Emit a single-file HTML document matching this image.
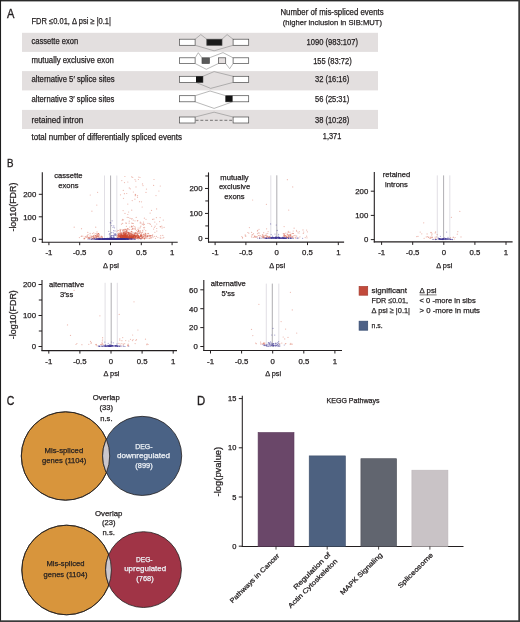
<!DOCTYPE html>
<html><head><meta charset="utf-8"><style>
html,body{margin:0;padding:0;background:#fff;}
svg{display:block;will-change:transform;}
text{font-family:"Liberation Sans", sans-serif;}
.t{}
</style></head><body>
<svg width="520" height="622" viewBox="0 0 520 622">
<rect width="520" height="622" fill="#ffffff"/>
<text x="7.1" y="17.7" font-size="12.3" textLength="7.4" lengthAdjust="spacingAndGlyphs" fill="#231f20" stroke="#231f20" stroke-width="0.35">A</text>
<text x="31.5" y="24.4" font-size="8.6" textLength="79.5" lengthAdjust="spacingAndGlyphs" fill="#231f20" stroke="#231f20" stroke-width="0.25">FDR ≤0.01, Δ psi ≥ |0.1|</text>
<text x="280.4" y="14.7" font-size="8.2" textLength="103.2" lengthAdjust="spacingAndGlyphs" fill="#231f20" stroke="#231f20" stroke-width="0.25">Number of mis-spliced events</text>
<text x="282.7" y="24.6" font-size="8.1" textLength="99.3" lengthAdjust="spacingAndGlyphs" fill="#231f20" stroke="#231f20" stroke-width="0.25">(higher inclusion in SIB:MUT)</text>
<rect x="22" y="32.8" width="356" height="19.1" fill="#e3dfdf"/>
<rect x="22" y="71.1" width="356" height="19.30000000000001" fill="#e3dfdf"/>
<rect x="22" y="109.9" width="356" height="19.099999999999994" fill="#e3dfdf"/>
<text x="31.5" y="44.3" font-size="8.15" textLength="46.6" lengthAdjust="spacingAndGlyphs" fill="#231f20" stroke="#231f20" stroke-width="0.25">cassette exon</text>
<text x="306.59999999999997" y="44.75" font-size="8.2" textLength="51.4" lengthAdjust="spacingAndGlyphs" fill="#231f20" stroke="#231f20" stroke-width="0.25">1090 (983:107)</text>
<text x="31.5" y="63.0" font-size="8.15" textLength="82.4" lengthAdjust="spacingAndGlyphs" fill="#231f20" stroke="#231f20" stroke-width="0.25">mutually exclusive exon</text>
<text x="313.2" y="63.6" font-size="8.2" textLength="38.5" lengthAdjust="spacingAndGlyphs" fill="#231f20" stroke="#231f20" stroke-width="0.25">155 (83:72)</text>
<text x="31.5" y="82.0" font-size="8.15" textLength="83.1" lengthAdjust="spacingAndGlyphs" fill="#231f20" stroke="#231f20" stroke-width="0.25">alternative 5′ splice sites</text>
<text x="315.0" y="82.25" font-size="8.2" textLength="34.2" lengthAdjust="spacingAndGlyphs" fill="#231f20" stroke="#231f20" stroke-width="0.25">32 (16:16)</text>
<text x="31.5" y="101.9" font-size="8.15" textLength="82.9" lengthAdjust="spacingAndGlyphs" fill="#231f20" stroke="#231f20" stroke-width="0.25">alternative 3′ splice sites</text>
<text x="315.0" y="101.5" font-size="8.2" textLength="34.2" lengthAdjust="spacingAndGlyphs" fill="#231f20" stroke="#231f20" stroke-width="0.25">56 (25:31)</text>
<text x="31.5" y="122.6" font-size="8.15" textLength="51.7" lengthAdjust="spacingAndGlyphs" fill="#231f20" stroke="#231f20" stroke-width="0.25">retained intron</text>
<text x="315.0" y="122.75" font-size="8.2" textLength="34.2" lengthAdjust="spacingAndGlyphs" fill="#231f20" stroke="#231f20" stroke-width="0.25">38 (10:28)</text>
<text x="31.5" y="139.6" font-size="8.15" textLength="150.5" lengthAdjust="spacingAndGlyphs" fill="#231f20" stroke="#231f20" stroke-width="0.25">total number of differentially spliced events</text>
<text x="322.8" y="138.9" font-size="8.2" textLength="18.5" lengthAdjust="spacingAndGlyphs" fill="#231f20" stroke="#231f20" stroke-width="0.25">1,371</text>
<path d="M195.1 39.2 L200.8 34.6 L206.8 39.2 M222 39.2 L227.1 34.6 L233.1 39.2 M195.1 45.3 L214.1 50.8 L233.1 45.3" stroke="#8a8a8a" stroke-width="0.6" fill="none"/>
<rect x="179.5" y="39.2" width="15.599999999999994" height="6.099999999999994" fill="#ffffff" stroke="#4a4a4a" stroke-width="0.7"/>
<rect x="206.8" y="39.2" width="15.199999999999989" height="6.099999999999994" fill="#1a1a1a" stroke="#4a4a4a" stroke-width="0.7"/>
<rect x="233.1" y="39.2" width="15.599999999999994" height="6.099999999999994" fill="#ffffff" stroke="#4a4a4a" stroke-width="0.7"/>
<path d="M195.1 57.8 L198.3 52.7 L202 57.8 M209.4 57.8 L223 52.6 L233.1 57.8 M195.1 63.5 L206.3 69.3 L218.4 63.5 M225.7 63.5 L229.7 68.7 L233.1 63.5" stroke="#8a8a8a" stroke-width="0.6" fill="none"/>
<rect x="179.5" y="57.8" width="15.599999999999994" height="5.700000000000003" fill="#ffffff" stroke="#4a4a4a" stroke-width="0.7"/>
<rect x="202" y="57.8" width="7.400000000000006" height="5.700000000000003" fill="#5a5a5a" stroke="#4a4a4a" stroke-width="0.7"/>
<rect x="218.4" y="57.8" width="7.299999999999983" height="5.700000000000003" fill="#e4dfdf" stroke="#4a4a4a" stroke-width="0.7"/>
<rect x="233.1" y="57.8" width="15.599999999999994" height="5.700000000000003" fill="#ffffff" stroke="#4a4a4a" stroke-width="0.7"/>
<path d="M202.9 76.3 L214.1 71.6 L233.1 76.3 M196 82.4 L210.7 88.4 L233.1 82.4" stroke="#8a8a8a" stroke-width="0.6" fill="none"/>
<rect x="179.5" y="76.3" width="23.400000000000006" height="6.1000000000000085" fill="#ffffff" stroke="#4a4a4a" stroke-width="0.7"/>
<rect x="196" y="76.3" width="6.9" height="6.1000000000000085" fill="#111111"/>
<rect x="233.1" y="76.3" width="15.599999999999994" height="6.1000000000000085" fill="#ffffff" stroke="#4a4a4a" stroke-width="0.7"/>
<path d="M195.1 95.7 L210.1 91 L225.7 95.7 M195.1 101.8 L214.1 108.4 L232.6 101.8" stroke="#8a8a8a" stroke-width="0.6" fill="none"/>
<rect x="179.5" y="95.7" width="15.599999999999994" height="6.099999999999994" fill="#ffffff" stroke="#4a4a4a" stroke-width="0.7"/>
<rect x="225.7" y="95.7" width="23.0" height="6.099999999999994" fill="#ffffff" stroke="#4a4a4a" stroke-width="0.7"/>
<rect x="225.7" y="95.7" width="6.9" height="6.099999999999994" fill="#111111"/>
<path d="M195.1 117 L214.1 112.2 L233.1 117" stroke="#8a8a8a" stroke-width="0.6" fill="none"/>
<path d="M195.6 120.3 L233.1 120.3" stroke="#444" stroke-width="0.7" fill="none" stroke-dasharray="2.9 1.9"/>
<rect x="179.5" y="117" width="15.599999999999994" height="6" fill="#ffffff" stroke="#4a4a4a" stroke-width="0.7"/>
<rect x="233.1" y="117" width="15.599999999999994" height="6" fill="#ffffff" stroke="#4a4a4a" stroke-width="0.7"/>
<text x="7.0" y="167.4" font-size="11.6" textLength="6.5" lengthAdjust="spacingAndGlyphs" fill="#231f20" stroke="#231f20" stroke-width="0.35">B</text>
<line x1="42.3" y1="172.3" x2="42.3" y2="242.7" stroke="#231f20" stroke-width="1.1"/>
<line x1="41.8" y1="242.2" x2="177.7" y2="242.2" stroke="#231f20" stroke-width="1.1"/>
<line x1="38.8" y1="239.3" x2="42.3" y2="239.3" stroke="#231f20" stroke-width="1.0"/>
<text x="36.3" y="242.10000000000002" font-size="7.8" text-anchor="end" fill="#231f20" stroke="#231f20" stroke-width="0.25">0</text>
<line x1="38.8" y1="216.8" x2="42.3" y2="216.8" stroke="#231f20" stroke-width="1.0"/>
<text x="36.3" y="219.60000000000002" font-size="7.8" text-anchor="end" fill="#231f20" stroke="#231f20" stroke-width="0.25">100</text>
<line x1="38.8" y1="194.3" x2="42.3" y2="194.3" stroke="#231f20" stroke-width="1.0"/>
<text x="36.3" y="197.10000000000002" font-size="7.8" text-anchor="end" fill="#231f20" stroke="#231f20" stroke-width="0.25">200</text>
<line x1="48.9" y1="242.2" x2="48.9" y2="245.2" stroke="#231f20" stroke-width="1.0"/>
<text x="48.9" y="255.1" font-size="7.8" text-anchor="middle" fill="#231f20" stroke="#231f20" stroke-width="0.25">-1</text>
<line x1="79.7" y1="242.2" x2="79.7" y2="245.2" stroke="#231f20" stroke-width="1.0"/>
<text x="79.7" y="255.1" font-size="7.8" text-anchor="middle" fill="#231f20" stroke="#231f20" stroke-width="0.25">-0.5</text>
<line x1="110.5" y1="242.2" x2="110.5" y2="245.2" stroke="#231f20" stroke-width="1.0"/>
<text x="110.5" y="255.1" font-size="7.8" text-anchor="middle" fill="#231f20" stroke="#231f20" stroke-width="0.25">0</text>
<line x1="141.3" y1="242.2" x2="141.3" y2="245.2" stroke="#231f20" stroke-width="1.0"/>
<text x="141.3" y="255.1" font-size="7.8" text-anchor="middle" fill="#231f20" stroke="#231f20" stroke-width="0.25">0.5</text>
<line x1="172.1" y1="242.2" x2="172.1" y2="245.2" stroke="#231f20" stroke-width="1.0"/>
<text x="172.1" y="255.1" font-size="7.8" text-anchor="middle" fill="#231f20" stroke="#231f20" stroke-width="0.25">1</text>
<text x="111.0" y="267.8" font-size="7.4" text-anchor="middle" fill="#231f20" stroke="#231f20" stroke-width="0.25">Δ psi</text>
<line x1="104.5" y1="175.5" x2="104.5" y2="239.8" stroke="#d9d7de" stroke-width="0.8"/>
<line x1="116.8" y1="175.5" x2="116.8" y2="239.8" stroke="#d9d7de" stroke-width="0.8"/>
<line x1="110.6" y1="175.5" x2="110.6" y2="239.8" stroke="#9a999e" stroke-width="0.8"/>
<text x="68.4" y="177.7" font-size="7.6" text-anchor="middle" fill="#231f20" stroke="#231f20" stroke-width="0.25">cassette</text>
<text x="68.4" y="187.7" font-size="7.6" text-anchor="middle" fill="#231f20" stroke="#231f20" stroke-width="0.25">exons</text>
<line x1="208.5" y1="172.4" x2="208.5" y2="242.6" stroke="#231f20" stroke-width="1.1"/>
<line x1="208.0" y1="242.1" x2="344.1" y2="242.1" stroke="#231f20" stroke-width="1.1"/>
<line x1="205.0" y1="238.4" x2="208.5" y2="238.4" stroke="#231f20" stroke-width="1.0"/>
<text x="202.5" y="241.20000000000002" font-size="7.8" text-anchor="end" fill="#231f20" stroke="#231f20" stroke-width="0.25">0</text>
<line x1="205.0" y1="213.43" x2="208.5" y2="213.43" stroke="#231f20" stroke-width="1.0"/>
<text x="202.5" y="216.23000000000002" font-size="7.8" text-anchor="end" fill="#231f20" stroke="#231f20" stroke-width="0.25">100</text>
<line x1="205.0" y1="188.46" x2="208.5" y2="188.46" stroke="#231f20" stroke-width="1.0"/>
<text x="202.5" y="191.26000000000002" font-size="7.8" text-anchor="end" fill="#231f20" stroke="#231f20" stroke-width="0.25">200</text>
<line x1="205.3" y1="225.91500000000002" x2="208.5" y2="225.91500000000002" stroke="#231f20" stroke-width="1.0"/>
<line x1="205.3" y1="200.945" x2="208.5" y2="200.945" stroke="#231f20" stroke-width="1.0"/>
<line x1="205.3" y1="175.975" x2="208.5" y2="175.975" stroke="#231f20" stroke-width="1.0"/>
<line x1="215.1" y1="242.1" x2="215.1" y2="245.1" stroke="#231f20" stroke-width="1.0"/>
<text x="215.1" y="255.2" font-size="7.8" text-anchor="middle" fill="#231f20" stroke="#231f20" stroke-width="0.25">-1</text>
<line x1="245.89999999999998" y1="242.1" x2="245.89999999999998" y2="245.1" stroke="#231f20" stroke-width="1.0"/>
<text x="245.89999999999998" y="255.2" font-size="7.8" text-anchor="middle" fill="#231f20" stroke="#231f20" stroke-width="0.25">-0.5</text>
<line x1="276.7" y1="242.1" x2="276.7" y2="245.1" stroke="#231f20" stroke-width="1.0"/>
<text x="276.7" y="255.2" font-size="7.8" text-anchor="middle" fill="#231f20" stroke="#231f20" stroke-width="0.25">0</text>
<line x1="307.5" y1="242.1" x2="307.5" y2="245.1" stroke="#231f20" stroke-width="1.0"/>
<text x="307.5" y="255.2" font-size="7.8" text-anchor="middle" fill="#231f20" stroke="#231f20" stroke-width="0.25">0.5</text>
<line x1="338.3" y1="242.1" x2="338.3" y2="245.1" stroke="#231f20" stroke-width="1.0"/>
<text x="338.3" y="255.2" font-size="7.8" text-anchor="middle" fill="#231f20" stroke="#231f20" stroke-width="0.25">1</text>
<text x="277.2" y="267.9" font-size="7.4" text-anchor="middle" fill="#231f20" stroke="#231f20" stroke-width="0.25">Δ psi</text>
<line x1="270.8" y1="175.3" x2="270.8" y2="238.9" stroke="#d9d7de" stroke-width="0.8"/>
<line x1="276.8" y1="175.3" x2="276.8" y2="238.9" stroke="#9a999e" stroke-width="0.8"/>
<text x="234.5" y="179.6" font-size="7.6" text-anchor="middle" fill="#231f20" stroke="#231f20" stroke-width="0.25">mutually</text>
<text x="234.5" y="189.29999999999998" font-size="7.6" text-anchor="middle" fill="#231f20" stroke="#231f20" stroke-width="0.25">exclusive</text>
<text x="234.5" y="199.0" font-size="7.6" text-anchor="middle" fill="#231f20" stroke="#231f20" stroke-width="0.25">exons</text>
<line x1="374.3" y1="172.0" x2="374.3" y2="242.4" stroke="#231f20" stroke-width="1.1"/>
<line x1="373.8" y1="241.9" x2="512.6" y2="241.9" stroke="#231f20" stroke-width="1.1"/>
<line x1="370.8" y1="239.6" x2="374.3" y2="239.6" stroke="#231f20" stroke-width="1.0"/>
<text x="368.3" y="242.4" font-size="7.8" text-anchor="end" fill="#231f20" stroke="#231f20" stroke-width="0.25">0</text>
<line x1="370.8" y1="215.4" x2="374.3" y2="215.4" stroke="#231f20" stroke-width="1.0"/>
<text x="368.3" y="218.20000000000002" font-size="7.8" text-anchor="end" fill="#231f20" stroke="#231f20" stroke-width="0.25">100</text>
<line x1="370.8" y1="191.2" x2="374.3" y2="191.2" stroke="#231f20" stroke-width="1.0"/>
<text x="368.3" y="194.0" font-size="7.8" text-anchor="end" fill="#231f20" stroke="#231f20" stroke-width="0.25">200</text>
<line x1="381.6" y1="241.9" x2="381.6" y2="244.9" stroke="#231f20" stroke-width="1.0"/>
<text x="381.6" y="254.9" font-size="7.8" text-anchor="middle" fill="#231f20" stroke="#231f20" stroke-width="0.25">-1</text>
<line x1="412.7" y1="241.9" x2="412.7" y2="244.9" stroke="#231f20" stroke-width="1.0"/>
<text x="412.7" y="254.9" font-size="7.8" text-anchor="middle" fill="#231f20" stroke="#231f20" stroke-width="0.25">-0.5</text>
<line x1="443.8" y1="241.9" x2="443.8" y2="244.9" stroke="#231f20" stroke-width="1.0"/>
<text x="443.8" y="254.9" font-size="7.8" text-anchor="middle" fill="#231f20" stroke="#231f20" stroke-width="0.25">0</text>
<line x1="474.90000000000003" y1="241.9" x2="474.90000000000003" y2="244.9" stroke="#231f20" stroke-width="1.0"/>
<text x="474.90000000000003" y="254.9" font-size="7.8" text-anchor="middle" fill="#231f20" stroke="#231f20" stroke-width="0.25">0.5</text>
<line x1="506.0" y1="241.9" x2="506.0" y2="244.9" stroke="#231f20" stroke-width="1.0"/>
<text x="506.0" y="254.9" font-size="7.8" text-anchor="middle" fill="#231f20" stroke="#231f20" stroke-width="0.25">1</text>
<text x="444.3" y="267.6" font-size="7.4" text-anchor="middle" fill="#231f20" stroke="#231f20" stroke-width="0.25">Δ psi</text>
<line x1="437.3" y1="175.4" x2="437.3" y2="240.1" stroke="#d9d7de" stroke-width="0.8"/>
<line x1="449.8" y1="175.4" x2="449.8" y2="240.1" stroke="#d9d7de" stroke-width="0.8"/>
<line x1="443.6" y1="175.4" x2="443.6" y2="240.1" stroke="#9a999e" stroke-width="0.8"/>
<text x="396.5" y="176.79999999999998" font-size="7.6" text-anchor="middle" fill="#231f20" stroke="#231f20" stroke-width="0.25">retained</text>
<text x="396.5" y="186.49999999999997" font-size="7.6" text-anchor="middle" fill="#231f20" stroke="#231f20" stroke-width="0.25">introns</text>
<line x1="42.0" y1="280.0" x2="42.0" y2="351.1" stroke="#231f20" stroke-width="1.1"/>
<line x1="41.5" y1="350.6" x2="177.0" y2="350.6" stroke="#231f20" stroke-width="1.1"/>
<line x1="38.5" y1="346.5" x2="42.0" y2="346.5" stroke="#231f20" stroke-width="1.0"/>
<text x="36.0" y="349.3" font-size="7.8" text-anchor="end" fill="#231f20" stroke="#231f20" stroke-width="0.25">0</text>
<line x1="38.5" y1="315.5" x2="42.0" y2="315.5" stroke="#231f20" stroke-width="1.0"/>
<text x="36.0" y="318.3" font-size="7.8" text-anchor="end" fill="#231f20" stroke="#231f20" stroke-width="0.25">100</text>
<line x1="38.5" y1="284.5" x2="42.0" y2="284.5" stroke="#231f20" stroke-width="1.0"/>
<text x="36.0" y="287.3" font-size="7.8" text-anchor="end" fill="#231f20" stroke="#231f20" stroke-width="0.25">200</text>
<line x1="38.8" y1="331.0" x2="42.0" y2="331.0" stroke="#231f20" stroke-width="1.0"/>
<line x1="38.8" y1="300.0" x2="42.0" y2="300.0" stroke="#231f20" stroke-width="1.0"/>
<line x1="48.8" y1="350.6" x2="48.8" y2="353.6" stroke="#231f20" stroke-width="1.0"/>
<text x="48.8" y="363.6" font-size="7.8" text-anchor="middle" fill="#231f20" stroke="#231f20" stroke-width="0.25">-1</text>
<line x1="79.9" y1="350.6" x2="79.9" y2="353.6" stroke="#231f20" stroke-width="1.0"/>
<text x="79.9" y="363.6" font-size="7.8" text-anchor="middle" fill="#231f20" stroke="#231f20" stroke-width="0.25">-0.5</text>
<line x1="111.0" y1="350.6" x2="111.0" y2="353.6" stroke="#231f20" stroke-width="1.0"/>
<text x="111.0" y="363.6" font-size="7.8" text-anchor="middle" fill="#231f20" stroke="#231f20" stroke-width="0.25">0</text>
<line x1="142.1" y1="350.6" x2="142.1" y2="353.6" stroke="#231f20" stroke-width="1.0"/>
<text x="142.1" y="363.6" font-size="7.8" text-anchor="middle" fill="#231f20" stroke="#231f20" stroke-width="0.25">0.5</text>
<line x1="173.2" y1="350.6" x2="173.2" y2="353.6" stroke="#231f20" stroke-width="1.0"/>
<text x="173.2" y="363.6" font-size="7.8" text-anchor="middle" fill="#231f20" stroke="#231f20" stroke-width="0.25">1</text>
<text x="111.5" y="376.3" font-size="7.4" text-anchor="middle" fill="#231f20" stroke="#231f20" stroke-width="0.25">Δ psi</text>
<line x1="105.1" y1="282.8" x2="105.1" y2="347.0" stroke="#d9d7de" stroke-width="0.8"/>
<line x1="117.3" y1="282.8" x2="117.3" y2="347.0" stroke="#d9d7de" stroke-width="0.8"/>
<line x1="111.2" y1="282.8" x2="111.2" y2="347.0" stroke="#9a999e" stroke-width="0.8"/>
<text x="66.6" y="286.5" font-size="7.6" text-anchor="middle" fill="#231f20" stroke="#231f20" stroke-width="0.25">alternative</text>
<text x="66.6" y="296.5" font-size="7.6" text-anchor="middle" fill="#231f20" stroke="#231f20" stroke-width="0.25">3′ss</text>
<line x1="203.8" y1="280.0" x2="203.8" y2="351.0" stroke="#231f20" stroke-width="1.1"/>
<line x1="203.3" y1="350.5" x2="342.0" y2="350.5" stroke="#231f20" stroke-width="1.1"/>
<line x1="200.3" y1="346.5" x2="203.8" y2="346.5" stroke="#231f20" stroke-width="1.0"/>
<text x="197.8" y="349.3" font-size="7.8" text-anchor="end" fill="#231f20" stroke="#231f20" stroke-width="0.25">0</text>
<line x1="200.3" y1="327.6" x2="203.8" y2="327.6" stroke="#231f20" stroke-width="1.0"/>
<text x="197.8" y="330.40000000000003" font-size="7.8" text-anchor="end" fill="#231f20" stroke="#231f20" stroke-width="0.25">20</text>
<line x1="200.3" y1="308.7" x2="203.8" y2="308.7" stroke="#231f20" stroke-width="1.0"/>
<text x="197.8" y="311.5" font-size="7.8" text-anchor="end" fill="#231f20" stroke="#231f20" stroke-width="0.25">40</text>
<line x1="200.3" y1="289.8" x2="203.8" y2="289.8" stroke="#231f20" stroke-width="1.0"/>
<text x="197.8" y="292.6" font-size="7.8" text-anchor="end" fill="#231f20" stroke="#231f20" stroke-width="0.25">60</text>
<line x1="210.5" y1="350.5" x2="210.5" y2="353.5" stroke="#231f20" stroke-width="1.0"/>
<text x="210.5" y="363.6" font-size="7.8" text-anchor="middle" fill="#231f20" stroke="#231f20" stroke-width="0.25">-1</text>
<line x1="241.6" y1="350.5" x2="241.6" y2="353.5" stroke="#231f20" stroke-width="1.0"/>
<text x="241.6" y="363.6" font-size="7.8" text-anchor="middle" fill="#231f20" stroke="#231f20" stroke-width="0.25">-0.5</text>
<line x1="272.7" y1="350.5" x2="272.7" y2="353.5" stroke="#231f20" stroke-width="1.0"/>
<text x="272.7" y="363.6" font-size="7.8" text-anchor="middle" fill="#231f20" stroke="#231f20" stroke-width="0.25">0</text>
<line x1="303.8" y1="350.5" x2="303.8" y2="353.5" stroke="#231f20" stroke-width="1.0"/>
<text x="303.8" y="363.6" font-size="7.8" text-anchor="middle" fill="#231f20" stroke="#231f20" stroke-width="0.25">0.5</text>
<line x1="334.9" y1="350.5" x2="334.9" y2="353.5" stroke="#231f20" stroke-width="1.0"/>
<text x="334.9" y="363.6" font-size="7.8" text-anchor="middle" fill="#231f20" stroke="#231f20" stroke-width="0.25">1</text>
<text x="273.2" y="376.3" font-size="7.4" text-anchor="middle" fill="#231f20" stroke="#231f20" stroke-width="0.25">Δ psi</text>
<line x1="266.3" y1="283.6" x2="266.3" y2="347.0" stroke="#d9d7de" stroke-width="0.8"/>
<line x1="278.8" y1="283.6" x2="278.8" y2="347.0" stroke="#d9d7de" stroke-width="0.8"/>
<line x1="272.3" y1="283.6" x2="272.3" y2="347.0" stroke="#9a999e" stroke-width="0.8"/>
<text x="228.2" y="286.2" font-size="7.6" text-anchor="middle" fill="#231f20" stroke="#231f20" stroke-width="0.25">alternative</text>
<text x="228.2" y="296.0" font-size="7.6" text-anchor="middle" fill="#231f20" stroke="#231f20" stroke-width="0.25">5′ss</text>
<text x="0" y="0" font-size="8.6" text-anchor="middle" textLength="49" lengthAdjust="spacingAndGlyphs" fill="#231f20" stroke="#231f20" stroke-width="0.25" transform="translate(15.6 207.1) rotate(-90)">-log10(FDR)</text>
<text x="0" y="0" font-size="8.6" text-anchor="middle" textLength="49" lengthAdjust="spacingAndGlyphs" fill="#231f20" stroke="#231f20" stroke-width="0.25" transform="translate(16.1 314.7) rotate(-90)">-log10(FDR)</text>
<g stroke="#cf4a33" stroke-width="1.24" stroke-linecap="round" stroke-opacity="0.38" fill="none"><path d="M126.8 236.9h0"/><path d="M118.0 235.2h0"/><path d="M149.5 238.0h0"/><path d="M135.0 234.6h0"/><path d="M136.6 236.2h0"/><path d="M132.1 218.6h0"/><path d="M139.2 233.1h0"/><path d="M136.0 186.9h0"/><path d="M121.6 235.5h0"/><path d="M134.6 233.3h0"/><path d="M126.4 237.5h0"/><path d="M137.2 235.6h0"/><path d="M152.6 219.4h0"/><path d="M156.7 224.0h0"/><path d="M124.9 232.4h0"/><path d="M123.5 219.8h0"/><path d="M125.1 238.3h0"/><path d="M134.1 235.1h0"/><path d="M156.8 231.1h0"/><path d="M125.4 235.3h0"/><path d="M123.0 238.7h0"/><path d="M119.2 234.6h0"/><path d="M129.1 235.4h0"/><path d="M144.4 218.2h0"/><path d="M128.3 232.9h0"/><path d="M131.7 237.8h0"/><path d="M118.3 236.8h0"/><path d="M134.6 235.2h0"/><path d="M138.5 230.4h0"/><path d="M136.9 238.6h0"/><path d="M133.3 237.2h0"/><path d="M126.8 237.7h0"/><path d="M132.4 237.5h0"/><path d="M122.8 238.0h0"/><path d="M125.7 235.0h0"/><path d="M126.0 233.3h0"/><path d="M123.6 233.2h0"/><path d="M146.1 238.2h0"/><path d="M146.1 237.8h0"/><path d="M121.5 233.8h0"/><path d="M126.3 234.2h0"/><path d="M117.4 237.4h0"/><path d="M137.8 220.6h0"/><path d="M140.9 234.4h0"/><path d="M131.6 223.0h0"/><path d="M133.1 238.6h0"/><path d="M118.0 235.1h0"/><path d="M136.2 237.8h0"/><path d="M134.0 235.5h0"/><path d="M129.6 235.7h0"/><path d="M131.3 238.1h0"/><path d="M134.7 236.0h0"/><path d="M124.5 237.9h0"/><path d="M119.6 237.1h0"/><path d="M120.4 238.6h0"/><path d="M126.4 237.7h0"/><path d="M122.9 237.6h0"/><path d="M139.0 236.9h0"/><path d="M126.9 238.2h0"/><path d="M145.5 233.6h0"/><path d="M130.1 237.5h0"/><path d="M129.1 236.4h0"/><path d="M120.0 236.3h0"/><path d="M160.7 235.7h0"/><path d="M121.3 237.2h0"/><path d="M158.9 191.0h0"/><path d="M120.6 236.7h0"/><path d="M118.5 234.6h0"/><path d="M136.7 235.8h0"/><path d="M142.6 232.3h0"/><path d="M141.2 235.0h0"/><path d="M132.2 237.7h0"/><path d="M124.1 238.2h0"/><path d="M134.8 229.0h0"/><path d="M120.3 237.3h0"/><path d="M137.6 233.5h0"/><path d="M140.2 223.1h0"/><path d="M120.7 234.7h0"/><path d="M128.6 232.8h0"/><path d="M123.0 237.9h0"/><path d="M137.6 238.0h0"/><path d="M127.9 236.3h0"/><path d="M129.6 237.9h0"/><path d="M125.7 237.6h0"/><path d="M129.6 235.3h0"/><path d="M147.7 235.8h0"/><path d="M140.1 236.3h0"/><path d="M123.8 238.0h0"/><path d="M127.8 182.0h0"/><path d="M152.7 236.3h0"/><path d="M125.5 235.7h0"/><path d="M120.6 235.1h0"/><path d="M132.8 237.6h0"/><path d="M128.5 237.6h0"/><path d="M131.6 236.7h0"/><path d="M121.1 236.5h0"/><path d="M143.0 234.9h0"/><path d="M135.8 236.4h0"/><path d="M131.3 236.1h0"/><path d="M139.2 237.6h0"/><path d="M135.4 238.2h0"/><path d="M135.9 235.6h0"/><path d="M125.9 234.7h0"/><path d="M135.5 236.9h0"/><path d="M120.0 238.2h0"/><path d="M159.6 221.6h0"/><path d="M130.4 237.5h0"/><path d="M126.0 233.8h0"/><path d="M126.4 236.1h0"/><path d="M120.8 237.9h0"/><path d="M122.7 230.9h0"/><path d="M147.0 236.2h0"/><path d="M127.5 238.3h0"/><path d="M123.1 236.8h0"/><path d="M145.7 235.1h0"/><path d="M131.9 233.6h0"/><path d="M154.0 179.5h0"/><path d="M133.6 233.0h0"/><path d="M136.2 236.1h0"/><path d="M122.9 237.2h0"/><path d="M135.4 237.0h0"/><path d="M144.7 235.4h0"/><path d="M123.8 237.6h0"/><path d="M125.7 235.5h0"/><path d="M152.7 234.8h0"/><path d="M140.5 231.0h0"/><path d="M161.8 226.2h0"/><path d="M120.2 238.7h0"/><path d="M138.1 237.1h0"/><path d="M125.3 236.5h0"/><path d="M127.4 228.7h0"/><path d="M126.8 229.9h0"/><path d="M129.1 238.0h0"/><path d="M127.6 238.2h0"/><path d="M122.4 238.5h0"/><path d="M128.8 238.8h0"/><path d="M127.6 235.2h0"/><path d="M123.5 235.4h0"/><path d="M134.4 238.3h0"/><path d="M139.8 238.7h0"/><path d="M124.1 233.1h0"/><path d="M126.2 231.9h0"/><path d="M121.8 180.6h0"/><path d="M145.8 234.5h0"/><path d="M125.3 235.1h0"/><path d="M125.1 234.9h0"/><path d="M126.0 237.4h0"/><path d="M140.5 234.6h0"/><path d="M127.9 232.5h0"/><path d="M124.6 233.0h0"/><path d="M156.4 217.6h0"/><path d="M129.3 238.3h0"/><path d="M123.9 235.0h0"/><path d="M133.4 192.0h0"/><path d="M132.4 237.4h0"/><path d="M123.9 236.5h0"/><path d="M133.0 236.5h0"/><path d="M123.5 235.4h0"/><path d="M133.7 236.0h0"/><path d="M122.6 238.2h0"/><path d="M118.5 234.8h0"/><path d="M120.4 235.6h0"/><path d="M134.1 235.9h0"/><path d="M133.9 228.3h0"/><path d="M149.4 238.5h0"/><path d="M131.4 234.5h0"/><path d="M126.3 235.1h0"/><path d="M140.2 236.9h0"/><path d="M128.7 217.5h0"/><path d="M128.3 233.9h0"/><path d="M155.5 238.3h0"/><path d="M143.0 185.6h0"/><path d="M164.1 227.4h0"/><path d="M131.8 226.7h0"/><path d="M139.4 238.5h0"/><path d="M119.1 236.5h0"/><path d="M126.2 237.3h0"/><path d="M120.9 232.3h0"/><path d="M122.0 238.6h0"/><path d="M135.0 179.6h0"/><path d="M131.0 237.2h0"/><path d="M124.9 235.8h0"/><path d="M125.2 229.7h0"/><path d="M121.5 235.2h0"/><path d="M119.4 238.3h0"/><path d="M128.4 233.1h0"/><path d="M120.6 236.9h0"/><path d="M128.0 236.0h0"/><path d="M134.6 237.3h0"/><path d="M124.1 229.7h0"/><path d="M141.5 201.8h0"/><path d="M135.3 237.8h0"/><path d="M136.3 233.1h0"/><path d="M127.9 232.1h0"/><path d="M137.2 238.2h0"/><path d="M126.4 237.4h0"/><path d="M125.6 233.2h0"/><path d="M148.4 235.8h0"/><path d="M132.6 235.2h0"/><path d="M138.6 237.8h0"/><path d="M126.8 236.4h0"/><path d="M150.3 224.4h0"/><path d="M127.1 234.6h0"/><path d="M125.6 237.9h0"/><path d="M124.1 238.4h0"/><path d="M123.0 238.0h0"/><path d="M149.7 236.2h0"/><path d="M124.8 235.2h0"/><path d="M129.7 237.9h0"/><path d="M123.8 238.7h0"/><path d="M122.6 235.6h0"/><path d="M127.8 214.5h0"/><path d="M127.1 235.1h0"/><path d="M124.8 235.3h0"/><path d="M126.4 238.4h0"/><path d="M126.4 238.2h0"/><path d="M126.2 236.3h0"/><path d="M129.2 232.4h0"/><path d="M133.3 236.9h0"/><path d="M122.3 234.6h0"/><path d="M118.0 238.7h0"/><path d="M153.9 219.1h0"/><path d="M131.5 234.9h0"/><path d="M125.7 236.7h0"/><path d="M126.5 237.7h0"/><path d="M131.5 226.0h0"/><path d="M130.2 238.4h0"/><path d="M124.8 236.5h0"/><path d="M131.2 237.1h0"/><path d="M128.6 232.7h0"/><path d="M151.0 237.3h0"/><path d="M127.1 235.8h0"/><path d="M131.7 238.1h0"/><path d="M138.8 235.7h0"/><path d="M127.5 237.0h0"/><path d="M146.0 192.4h0"/><path d="M134.1 237.5h0"/><path d="M124.8 237.7h0"/><path d="M131.3 235.5h0"/><path d="M153.6 229.1h0"/><path d="M129.5 233.6h0"/><path d="M147.9 238.2h0"/><path d="M124.7 238.7h0"/><path d="M134.7 237.3h0"/><path d="M120.4 238.5h0"/><path d="M140.0 177.5h0"/><path d="M125.9 229.3h0"/><path d="M123.1 235.7h0"/><path d="M118.6 236.5h0"/><path d="M120.4 236.8h0"/><path d="M131.4 235.8h0"/><path d="M131.1 231.6h0"/><path d="M121.6 235.6h0"/><path d="M142.7 230.3h0"/><path d="M123.1 230.7h0"/><path d="M122.9 237.7h0"/><path d="M123.3 235.9h0"/><path d="M127.2 237.1h0"/><path d="M127.6 235.1h0"/><path d="M124.4 237.9h0"/><path d="M123.5 238.4h0"/><path d="M138.1 238.0h0"/><path d="M127.2 217.3h0"/><path d="M133.5 236.9h0"/><path d="M144.2 238.6h0"/><path d="M124.5 236.8h0"/><path d="M147.2 233.7h0"/><path d="M129.7 235.3h0"/><path d="M140.1 230.9h0"/><path d="M131.4 236.9h0"/><path d="M132.9 237.1h0"/><path d="M142.1 238.5h0"/><path d="M141.1 235.6h0"/><path d="M140.2 236.4h0"/><path d="M124.1 236.8h0"/><path d="M121.0 237.5h0"/><path d="M122.5 236.2h0"/><path d="M132.7 237.4h0"/><path d="M123.1 237.1h0"/><path d="M131.4 238.5h0"/><path d="M127.5 232.8h0"/><path d="M128.4 237.7h0"/><path d="M132.5 234.6h0"/><path d="M140.1 238.0h0"/><path d="M141.3 236.3h0"/><path d="M125.8 235.3h0"/><path d="M124.5 236.4h0"/><path d="M140.9 235.7h0"/><path d="M143.5 227.6h0"/><path d="M122.4 238.7h0"/><path d="M130.4 236.1h0"/><path d="M126.9 230.9h0"/><path d="M122.1 236.2h0"/><path d="M143.5 224.9h0"/><path d="M121.7 234.5h0"/><path d="M144.0 234.7h0"/><path d="M134.0 235.3h0"/><path d="M124.8 235.2h0"/><path d="M130.8 238.7h0"/><path d="M145.6 234.9h0"/><path d="M136.4 233.3h0"/><path d="M145.4 237.2h0"/><path d="M120.7 237.4h0"/><path d="M133.4 236.9h0"/><path d="M126.1 238.8h0"/><path d="M142.1 237.9h0"/><path d="M142.2 207.0h0"/><path d="M144.9 238.6h0"/><path d="M132.9 235.5h0"/><path d="M126.7 238.4h0"/><path d="M129.6 237.1h0"/><path d="M117.9 233.4h0"/><path d="M154.5 236.3h0"/><path d="M125.3 236.4h0"/><path d="M121.6 237.8h0"/><path d="M119.2 235.4h0"/><path d="M140.9 238.5h0"/><path d="M134.8 232.9h0"/><path d="M122.6 223.4h0"/><path d="M138.7 233.4h0"/><path d="M133.6 237.2h0"/><path d="M124.3 236.2h0"/><path d="M135.6 237.6h0"/><path d="M123.1 233.1h0"/><path d="M133.0 238.0h0"/><path d="M120.7 238.2h0"/><path d="M126.1 237.9h0"/><path d="M141.3 236.2h0"/><path d="M123.5 232.6h0"/><path d="M135.3 236.7h0"/><path d="M129.6 236.1h0"/><path d="M123.1 237.3h0"/><path d="M156.6 208.9h0"/><path d="M133.3 236.1h0"/><path d="M121.8 235.8h0"/><path d="M125.6 233.4h0"/><path d="M118.2 234.3h0"/><path d="M120.4 237.5h0"/><path d="M125.3 238.1h0"/><path d="M127.5 236.8h0"/><path d="M124.1 235.8h0"/><path d="M162.8 235.4h0"/><path d="M128.2 238.4h0"/><path d="M125.0 234.2h0"/><path d="M125.5 235.5h0"/><path d="M127.5 235.6h0"/><path d="M130.1 218.4h0"/><path d="M122.4 238.8h0"/><path d="M131.5 237.7h0"/><path d="M129.8 237.8h0"/><path d="M129.7 236.1h0"/><path d="M129.6 235.8h0"/><path d="M126.9 235.8h0"/><path d="M131.6 238.8h0"/><path d="M129.4 237.2h0"/><path d="M121.1 235.3h0"/><path d="M124.4 236.0h0"/><path d="M150.7 235.8h0"/><path d="M127.0 235.1h0"/><path d="M160.2 226.5h0"/><path d="M120.3 231.4h0"/><path d="M123.3 238.5h0"/><path d="M138.4 237.0h0"/><path d="M127.8 204.1h0"/><path d="M133.1 234.4h0"/><path d="M130.9 233.3h0"/><path d="M145.4 236.2h0"/><path d="M122.3 238.0h0"/><path d="M130.8 237.4h0"/><path d="M142.5 237.6h0"/><path d="M133.3 238.6h0"/><path d="M123.4 233.3h0"/><path d="M126.7 236.7h0"/><path d="M151.6 226.2h0"/><path d="M142.3 224.3h0"/><path d="M144.1 234.5h0"/><path d="M129.8 235.0h0"/><path d="M124.4 234.0h0"/><path d="M123.0 236.8h0"/><path d="M125.0 236.8h0"/><path d="M117.1 231.5h0"/><path d="M144.5 238.7h0"/><path d="M133.0 236.6h0"/><path d="M126.2 232.8h0"/><path d="M131.3 237.5h0"/><path d="M122.1 238.7h0"/><path d="M123.9 232.3h0"/><path d="M141.3 235.2h0"/><path d="M124.9 234.7h0"/><path d="M132.8 229.5h0"/><path d="M119.6 236.3h0"/><path d="M155.1 226.2h0"/><path d="M125.3 234.2h0"/><path d="M120.7 236.0h0"/><path d="M142.0 235.7h0"/><path d="M124.5 235.1h0"/><path d="M156.4 236.4h0"/><path d="M126.5 231.2h0"/><path d="M134.9 199.2h0"/><path d="M135.6 233.5h0"/><path d="M129.5 236.8h0"/><path d="M154.9 232.3h0"/><path d="M149.1 235.9h0"/><path d="M128.4 229.0h0"/><path d="M132.6 236.1h0"/><path d="M127.0 237.8h0"/><path d="M130.7 236.5h0"/><path d="M162.1 227.9h0"/><path d="M147.8 236.2h0"/><path d="M130.9 236.3h0"/><path d="M135.6 237.2h0"/><path d="M132.5 234.9h0"/><path d="M146.0 219.3h0"/><path d="M131.0 234.8h0"/><path d="M129.4 229.7h0"/><path d="M122.2 237.0h0"/><path d="M120.3 230.4h0"/><path d="M129.9 236.8h0"/><path d="M134.5 235.7h0"/><path d="M120.2 233.8h0"/><path d="M131.6 237.9h0"/><path d="M141.8 237.6h0"/><path d="M125.7 236.6h0"/><path d="M129.1 223.2h0"/><path d="M160.9 238.2h0"/><path d="M127.9 236.0h0"/><path d="M132.1 236.3h0"/><path d="M128.7 234.5h0"/><path d="M130.2 235.7h0"/><path d="M124.7 236.5h0"/><path d="M134.4 235.7h0"/><path d="M122.4 238.6h0"/><path d="M143.8 238.5h0"/><path d="M144.2 229.1h0"/><path d="M137.4 220.8h0"/><path d="M129.1 238.0h0"/><path d="M140.6 232.4h0"/><path d="M121.4 235.7h0"/><path d="M127.7 229.8h0"/><path d="M128.0 238.0h0"/><path d="M118.7 235.5h0"/><path d="M147.3 235.9h0"/><path d="M125.0 236.3h0"/><path d="M133.3 235.7h0"/><path d="M119.9 234.0h0"/><path d="M138.7 237.8h0"/><path d="M135.6 194.9h0"/><path d="M123.1 236.9h0"/><path d="M131.7 236.8h0"/><path d="M137.5 237.9h0"/><path d="M135.8 181.1h0"/><path d="M142.5 183.9h0"/><path d="M130.7 234.1h0"/><path d="M138.3 236.5h0"/><path d="M122.4 235.2h0"/><path d="M133.2 236.3h0"/><path d="M144.5 236.8h0"/><path d="M160.1 217.6h0"/><path d="M133.9 235.4h0"/><path d="M123.7 238.5h0"/><path d="M126.7 193.5h0"/><path d="M138.7 237.1h0"/><path d="M131.6 219.0h0"/><path d="M129.6 236.7h0"/><path d="M120.9 229.6h0"/><path d="M126.9 234.3h0"/><path d="M134.7 236.5h0"/><path d="M135.6 236.5h0"/><path d="M123.1 236.1h0"/><path d="M124.2 235.1h0"/><path d="M132.8 235.9h0"/><path d="M121.6 235.2h0"/><path d="M120.7 236.1h0"/><path d="M124.1 235.8h0"/><path d="M127.9 236.9h0"/><path d="M122.5 237.1h0"/><path d="M126.0 235.6h0"/><path d="M126.2 233.3h0"/><path d="M121.5 235.7h0"/><path d="M141.2 223.0h0"/><path d="M124.2 235.9h0"/><path d="M134.6 238.2h0"/><path d="M126.2 238.5h0"/><path d="M120.2 230.5h0"/><path d="M144.4 238.8h0"/><path d="M125.3 237.2h0"/><path d="M152.3 235.3h0"/><path d="M137.4 234.1h0"/><path d="M125.3 236.8h0"/><path d="M120.9 233.7h0"/><path d="M126.1 236.4h0"/><path d="M124.6 235.8h0"/><path d="M122.6 235.6h0"/><path d="M130.9 238.3h0"/><path d="M125.5 238.1h0"/><path d="M127.9 235.0h0"/><path d="M128.5 237.9h0"/><path d="M118.2 237.8h0"/><path d="M121.8 237.0h0"/><path d="M124.6 233.2h0"/><path d="M123.9 235.2h0"/><path d="M136.0 237.9h0"/><path d="M123.5 233.8h0"/><path d="M128.6 238.1h0"/><path d="M123.9 230.4h0"/><path d="M126.3 237.9h0"/><path d="M133.7 236.2h0"/><path d="M126.2 236.6h0"/><path d="M118.5 230.5h0"/><path d="M120.7 237.5h0"/><path d="M131.1 236.1h0"/><path d="M120.4 233.2h0"/><path d="M163.8 237.3h0"/><path d="M123.9 234.6h0"/><path d="M118.4 236.6h0"/><path d="M133.7 236.5h0"/><path d="M119.5 236.6h0"/><path d="M124.1 238.2h0"/><path d="M124.9 238.2h0"/><path d="M125.7 237.6h0"/><path d="M120.5 236.7h0"/><path d="M137.9 235.3h0"/><path d="M135.0 235.7h0"/><path d="M135.7 236.4h0"/><path d="M123.2 234.0h0"/><path d="M153.0 237.6h0"/><path d="M154.8 222.1h0"/><path d="M124.7 234.8h0"/><path d="M137.9 237.2h0"/><path d="M128.5 233.4h0"/><path d="M131.8 226.8h0"/><path d="M120.4 237.9h0"/><path d="M133.1 236.9h0"/><path d="M116.9 236.1h0"/><path d="M125.3 236.6h0"/><path d="M125.7 236.7h0"/><path d="M141.7 234.5h0"/><path d="M121.5 238.2h0"/><path d="M143.6 234.2h0"/><path d="M129.4 232.9h0"/><path d="M131.7 210.2h0"/><path d="M160.2 237.9h0"/><path d="M138.7 237.5h0"/><path d="M118.8 233.4h0"/><path d="M133.2 237.9h0"/><path d="M126.5 238.5h0"/><path d="M120.0 235.5h0"/><path d="M134.8 235.5h0"/><path d="M134.7 235.2h0"/><path d="M124.7 231.9h0"/><path d="M126.4 226.3h0"/><path d="M133.3 237.5h0"/><path d="M132.2 200.6h0"/><path d="M141.8 232.7h0"/><path d="M143.3 223.7h0"/><path d="M123.2 235.3h0"/><path d="M126.4 231.7h0"/><path d="M160.3 186.0h0"/><path d="M127.2 236.1h0"/><path d="M119.8 236.2h0"/><path d="M122.8 236.2h0"/><path d="M130.6 237.6h0"/><path d="M131.6 238.2h0"/><path d="M120.1 232.1h0"/><path d="M124.6 234.9h0"/><path d="M143.5 222.1h0"/><path d="M125.0 229.2h0"/><path d="M135.7 232.4h0"/><path d="M138.1 231.8h0"/><path d="M124.4 236.3h0"/><path d="M120.0 234.9h0"/><path d="M138.5 231.3h0"/><path d="M137.5 235.1h0"/><path d="M124.4 193.7h0"/><path d="M129.4 233.9h0"/><path d="M139.5 201.7h0"/><path d="M122.1 238.1h0"/><path d="M135.0 238.6h0"/><path d="M129.5 238.8h0"/><path d="M148.6 233.7h0"/><path d="M124.7 235.8h0"/><path d="M138.8 177.1h0"/><path d="M121.5 233.7h0"/><path d="M137.5 234.3h0"/><path d="M134.7 237.0h0"/><path d="M122.5 236.6h0"/><path d="M130.5 237.1h0"/><path d="M128.9 237.2h0"/><path d="M135.0 220.8h0"/><path d="M119.8 238.5h0"/><path d="M120.7 237.3h0"/><path d="M125.5 231.3h0"/><path d="M126.8 238.3h0"/><path d="M151.1 235.6h0"/><path d="M131.5 237.2h0"/><path d="M131.7 237.0h0"/><path d="M127.6 238.8h0"/><path d="M121.5 236.6h0"/><path d="M128.9 235.0h0"/><path d="M142.0 236.1h0"/><path d="M132.4 236.7h0"/><path d="M135.6 232.7h0"/><path d="M125.5 235.6h0"/><path d="M122.7 236.7h0"/><path d="M128.8 236.9h0"/><path d="M129.3 221.2h0"/><path d="M119.1 237.0h0"/><path d="M125.3 237.9h0"/><path d="M131.2 237.8h0"/><path d="M153.6 185.4h0"/><path d="M127.9 228.7h0"/><path d="M136.4 230.5h0"/><path d="M154.4 227.5h0"/><path d="M122.8 236.7h0"/><path d="M151.3 237.8h0"/><path d="M126.2 223.4h0"/><path d="M126.0 231.7h0"/><path d="M124.4 237.5h0"/><path d="M122.5 233.0h0"/><path d="M150.1 213.1h0"/><path d="M160.4 226.9h0"/><path d="M127.0 238.2h0"/><path d="M131.5 231.9h0"/><path d="M142.6 237.2h0"/><path d="M122.4 235.4h0"/><path d="M125.0 234.4h0"/><path d="M126.6 230.5h0"/><path d="M128.2 237.7h0"/><path d="M132.4 236.8h0"/><path d="M132.0 237.3h0"/><path d="M127.9 235.0h0"/><path d="M125.1 236.6h0"/><path d="M133.4 238.0h0"/><path d="M124.2 236.3h0"/><path d="M129.9 234.1h0"/><path d="M123.5 235.4h0"/><path d="M132.8 232.7h0"/><path d="M124.8 232.9h0"/><path d="M124.1 233.6h0"/><path d="M136.0 236.0h0"/><path d="M120.5 236.7h0"/><path d="M139.7 233.2h0"/><path d="M132.0 231.5h0"/><path d="M128.5 238.8h0"/><path d="M121.8 237.7h0"/><path d="M132.1 238.4h0"/><path d="M124.5 182.6h0"/><path d="M130.1 235.5h0"/><path d="M120.8 234.8h0"/><path d="M145.5 233.3h0"/><path d="M140.9 236.4h0"/><path d="M138.1 228.0h0"/><path d="M136.1 236.0h0"/><path d="M127.6 238.2h0"/><path d="M122.8 235.7h0"/><path d="M144.9 237.8h0"/><path d="M128.7 236.4h0"/><path d="M137.5 197.3h0"/><path d="M130.0 235.3h0"/><path d="M127.8 232.1h0"/><path d="M124.5 236.3h0"/><path d="M126.9 237.1h0"/><path d="M124.0 238.8h0"/><path d="M130.0 234.4h0"/><path d="M131.5 231.5h0"/><path d="M123.8 234.3h0"/><path d="M125.6 236.5h0"/><path d="M138.8 236.7h0"/><path d="M138.7 236.1h0"/><path d="M139.0 231.0h0"/><path d="M135.0 233.3h0"/><path d="M121.5 234.6h0"/><path d="M131.5 235.7h0"/><path d="M128.5 237.1h0"/><path d="M150.8 235.7h0"/><path d="M128.1 234.4h0"/><path d="M123.3 236.8h0"/><path d="M117.6 237.5h0"/><path d="M127.4 238.4h0"/><path d="M134.8 226.6h0"/><path d="M124.7 236.0h0"/><path d="M126.2 232.8h0"/><path d="M128.1 238.8h0"/><path d="M140.7 236.0h0"/><path d="M124.4 236.1h0"/><path d="M130.3 188.8h0"/><path d="M126.3 232.8h0"/><path d="M135.4 235.6h0"/><path d="M137.9 229.6h0"/><path d="M119.0 236.8h0"/><path d="M138.4 179.5h0"/><path d="M128.7 232.6h0"/><path d="M139.4 237.0h0"/><path d="M132.4 237.0h0"/><path d="M129.1 237.1h0"/><path d="M144.4 224.4h0"/><path d="M126.8 237.2h0"/><path d="M123.3 233.7h0"/><path d="M132.1 237.6h0"/><path d="M128.0 238.7h0"/><path d="M124.0 233.8h0"/><path d="M140.2 238.3h0"/><path d="M129.3 187.9h0"/><path d="M128.5 236.3h0"/><path d="M121.9 235.2h0"/><path d="M122.7 238.6h0"/><path d="M144.6 227.3h0"/><path d="M118.2 237.9h0"/><path d="M134.2 234.3h0"/><path d="M139.3 232.0h0"/><path d="M125.6 235.9h0"/><path d="M124.7 235.5h0"/><path d="M128.2 238.4h0"/><path d="M122.0 237.3h0"/><path d="M129.4 235.3h0"/><path d="M121.0 235.9h0"/><path d="M134.6 235.4h0"/><path d="M125.0 235.6h0"/><path d="M125.7 236.0h0"/><path d="M121.2 233.2h0"/><path d="M128.6 212.0h0"/><path d="M124.6 231.1h0"/><path d="M126.6 236.6h0"/><path d="M125.8 237.5h0"/><path d="M120.1 234.1h0"/><path d="M117.8 230.3h0"/><path d="M141.1 238.6h0"/><path d="M135.5 229.2h0"/><path d="M123.4 236.5h0"/><path d="M122.6 235.8h0"/><path d="M120.0 229.3h0"/><path d="M127.8 235.7h0"/><path d="M143.6 236.9h0"/><path d="M120.6 236.9h0"/><path d="M133.2 237.5h0"/><path d="M126.0 229.9h0"/><path d="M149.7 223.5h0"/><path d="M125.0 236.7h0"/><path d="M124.9 234.9h0"/><path d="M125.0 213.4h0"/><path d="M121.3 234.7h0"/><path d="M122.8 238.6h0"/><path d="M131.5 237.3h0"/><path d="M127.6 238.2h0"/><path d="M132.4 237.3h0"/><path d="M122.2 238.6h0"/><path d="M126.1 236.8h0"/><path d="M122.6 237.6h0"/><path d="M138.4 231.0h0"/><path d="M131.7 233.5h0"/><path d="M145.0 233.1h0"/><path d="M141.8 237.4h0"/><path d="M120.2 236.9h0"/><path d="M125.4 234.3h0"/><path d="M121.7 235.5h0"/><path d="M137.5 232.8h0"/><path d="M124.7 237.7h0"/><path d="M127.9 236.6h0"/><path d="M142.9 236.5h0"/><path d="M121.2 238.4h0"/><path d="M130.8 233.6h0"/><path d="M137.9 235.8h0"/><path d="M118.4 237.9h0"/><path d="M124.9 236.5h0"/><path d="M127.3 238.7h0"/><path d="M137.9 235.8h0"/><path d="M127.0 236.2h0"/><path d="M141.4 233.3h0"/><path d="M125.9 236.0h0"/><path d="M124.6 236.6h0"/><path d="M124.8 236.1h0"/><path d="M123.6 229.5h0"/><path d="M135.2 195.7h0"/><path d="M119.0 238.5h0"/><path d="M117.8 235.4h0"/><path d="M136.2 217.4h0"/><path d="M130.8 237.9h0"/><path d="M129.6 238.5h0"/><path d="M129.4 236.0h0"/><path d="M123.6 234.8h0"/><path d="M126.8 238.6h0"/><path d="M126.3 238.0h0"/><path d="M123.7 237.0h0"/><path d="M135.4 227.9h0"/><path d="M130.6 238.8h0"/><path d="M133.0 237.2h0"/><path d="M123.5 198.3h0"/><path d="M123.1 237.8h0"/><path d="M137.6 237.4h0"/><path d="M121.6 237.1h0"/><path d="M150.7 238.2h0"/><path d="M123.1 210.6h0"/><path d="M125.8 235.3h0"/><path d="M137.5 195.7h0"/><path d="M163.0 238.0h0"/><path d="M141.0 238.3h0"/><path d="M120.9 236.2h0"/><path d="M135.6 237.6h0"/><path d="M118.0 238.6h0"/><path d="M137.0 236.1h0"/><path d="M132.4 223.4h0"/><path d="M136.7 234.2h0"/><path d="M151.5 210.4h0"/><path d="M125.5 237.5h0"/><path d="M133.4 223.5h0"/><path d="M131.7 235.2h0"/><path d="M138.4 237.3h0"/><path d="M131.6 237.1h0"/><path d="M125.7 238.8h0"/><path d="M135.5 236.1h0"/><path d="M125.9 235.0h0"/><path d="M120.5 194.8h0"/><path d="M132.9 236.0h0"/><path d="M135.6 238.8h0"/><path d="M129.8 227.1h0"/><path d="M132.5 228.4h0"/><path d="M134.4 235.6h0"/><path d="M124.5 238.2h0"/><path d="M137.4 231.7h0"/><path d="M118.2 238.8h0"/><path d="M123.5 232.3h0"/><path d="M121.6 238.8h0"/><path d="M134.5 238.0h0"/><path d="M124.8 236.1h0"/><path d="M117.8 236.3h0"/><path d="M135.0 234.1h0"/><path d="M129.0 237.3h0"/><path d="M126.6 237.3h0"/><path d="M125.3 233.5h0"/><path d="M148.0 223.4h0"/><path d="M122.5 219.4h0"/><path d="M141.0 236.0h0"/><path d="M134.2 235.7h0"/><path d="M123.7 238.5h0"/><path d="M137.9 236.6h0"/><path d="M135.3 233.8h0"/><path d="M148.1 233.3h0"/><path d="M138.4 237.0h0"/><path d="M140.9 226.1h0"/><path d="M134.3 235.6h0"/><path d="M143.7 235.8h0"/><path d="M129.7 238.0h0"/><path d="M123.2 235.2h0"/><path d="M132.7 228.9h0"/><path d="M127.3 237.6h0"/><path d="M135.3 194.4h0"/><path d="M120.1 237.9h0"/><path d="M142.9 237.4h0"/><path d="M121.5 235.9h0"/><path d="M127.3 237.5h0"/><path d="M131.6 176.8h0"/><path d="M143.3 236.6h0"/><path d="M137.2 234.7h0"/><path d="M130.1 238.0h0"/><path d="M123.5 231.9h0"/><path d="M138.7 230.1h0"/><path d="M138.8 235.3h0"/><path d="M119.7 233.4h0"/><path d="M120.6 237.3h0"/><path d="M136.5 235.9h0"/><path d="M125.6 234.4h0"/><path d="M121.2 236.8h0"/><path d="M123.9 237.3h0"/><path d="M139.1 238.2h0"/><path d="M121.8 232.7h0"/><path d="M131.9 234.0h0"/><path d="M122.2 220.5h0"/><path d="M130.5 233.4h0"/><path d="M128.7 238.7h0"/><path d="M123.3 190.4h0"/><path d="M147.0 236.9h0"/><path d="M137.7 235.8h0"/><path d="M137.7 237.7h0"/><path d="M118.8 238.4h0"/><path d="M130.4 235.2h0"/><path d="M129.6 237.6h0"/><path d="M139.9 228.1h0"/><path d="M132.1 226.7h0"/><path d="M129.4 238.7h0"/><path d="M150.2 235.9h0"/><path d="M120.4 235.6h0"/><path d="M157.9 237.5h0"/><path d="M130.8 232.5h0"/><path d="M126.1 235.6h0"/><path d="M122.9 236.0h0"/><path d="M132.6 238.6h0"/><path d="M156.7 228.5h0"/><path d="M123.6 237.8h0"/><path d="M133.8 236.9h0"/><path d="M142.9 231.1h0"/><path d="M120.7 236.6h0"/><path d="M140.3 222.1h0"/><path d="M120.0 235.7h0"/><path d="M124.4 235.8h0"/><path d="M130.5 236.6h0"/><path d="M130.3 237.0h0"/><path d="M122.0 233.8h0"/><path d="M146.5 189.1h0"/><path d="M120.6 235.7h0"/><path d="M139.4 237.1h0"/><path d="M122.2 237.7h0"/><path d="M121.6 237.9h0"/><path d="M134.1 235.8h0"/><path d="M118.4 235.8h0"/><path d="M123.1 236.4h0"/><path d="M122.2 236.7h0"/><path d="M145.2 235.9h0"/><path d="M129.9 237.6h0"/><path d="M125.6 233.7h0"/><path d="M128.7 238.4h0"/><path d="M125.0 237.8h0"/><path d="M130.5 236.9h0"/><path d="M123.3 235.9h0"/><path d="M128.1 237.1h0"/><path d="M127.6 238.4h0"/><path d="M131.2 235.7h0"/><path d="M124.3 235.7h0"/><path d="M139.5 237.3h0"/><path d="M125.7 237.3h0"/><path d="M125.2 237.9h0"/><path d="M149.6 235.4h0"/><path d="M133.4 225.8h0"/><path d="M138.1 235.2h0"/><path d="M136.0 236.1h0"/><path d="M118.8 234.7h0"/><path d="M123.3 237.3h0"/><path d="M126.5 237.1h0"/><path d="M122.9 235.5h0"/><path d="M123.8 236.7h0"/><path d="M136.0 236.0h0"/><path d="M122.5 229.8h0"/><path d="M119.1 235.9h0"/><path d="M147.4 236.4h0"/><path d="M126.8 235.8h0"/><path d="M127.1 235.6h0"/><path d="M139.9 238.5h0"/><path d="M125.9 222.8h0"/><path d="M132.2 234.6h0"/><path d="M120.9 234.7h0"/><path d="M121.4 238.5h0"/><path d="M123.1 237.8h0"/><path d="M163.3 220.1h0"/><path d="M129.0 235.0h0"/><path d="M129.2 233.7h0"/><path d="M127.2 232.1h0"/><path d="M128.9 234.4h0"/><path d="M140.4 227.0h0"/><path d="M133.6 234.5h0"/><path d="M127.0 233.7h0"/><path d="M124.9 176.5h0"/><path d="M121.5 224.2h0"/><path d="M146.3 236.0h0"/><path d="M123.0 236.8h0"/><path d="M139.1 236.5h0"/><path d="M119.5 238.4h0"/><path d="M137.0 237.3h0"/><path d="M137.5 237.1h0"/><path d="M125.4 237.5h0"/><path d="M127.4 238.3h0"/><path d="M132.7 177.3h0"/><path d="M121.3 237.1h0"/><path d="M130.4 238.7h0"/><path d="M136.6 237.8h0"/><path d="M118.8 233.0h0"/><path d="M128.8 237.3h0"/><path d="M140.6 235.5h0"/><path d="M156.0 195.6h0"/><path d="M145.7 230.7h0"/><path d="M117.6 238.3h0"/><path d="M122.3 238.1h0"/><path d="M141.1 235.4h0"/><path d="M128.7 238.7h0"/><path d="M131.4 229.6h0"/><path d="M119.4 235.4h0"/><path d="M138.1 235.3h0"/><path d="M131.1 234.6h0"/><path d="M142.0 238.6h0"/><path d="M126.9 235.8h0"/><path d="M133.3 220.1h0"/><path d="M133.0 236.0h0"/><path d="M88.3 237.8h0"/><path d="M96.6 236.7h0"/><path d="M98.6 236.1h0"/><path d="M99.1 235.2h0"/><path d="M98.0 234.0h0"/><path d="M85.2 236.6h0"/><path d="M87.3 236.4h0"/><path d="M97.2 234.9h0"/><path d="M79.4 237.6h0"/><path d="M101.6 236.3h0"/><path d="M101.0 237.4h0"/><path d="M93.6 235.6h0"/><path d="M90.3 195.0h0"/><path d="M96.4 236.1h0"/><path d="M93.5 237.2h0"/><path d="M89.6 237.6h0"/><path d="M87.8 232.4h0"/><path d="M97.0 231.9h0"/><path d="M95.8 235.6h0"/><path d="M96.6 237.3h0"/><path d="M95.4 235.5h0"/><path d="M98.0 235.8h0"/><path d="M94.0 236.1h0"/><path d="M98.4 233.6h0"/><path d="M91.4 237.4h0"/><path d="M95.2 237.3h0"/><path d="M91.6 236.1h0"/><path d="M84.6 238.8h0"/><path d="M94.1 238.2h0"/><path d="M81.5 228.7h0"/><path d="M92.9 238.3h0"/><path d="M92.5 236.5h0"/><path d="M84.7 238.5h0"/><path d="M97.8 234.9h0"/><path d="M98.3 233.6h0"/><path d="M83.9 238.8h0"/><path d="M87.7 237.0h0"/><path d="M98.3 236.1h0"/><path d="M85.5 237.1h0"/><path d="M102.3 237.6h0"/><path d="M94.2 236.9h0"/><path d="M98.2 233.8h0"/><path d="M88.2 238.2h0"/><path d="M98.2 238.1h0"/><path d="M87.6 235.3h0"/><path d="M99.6 236.0h0"/><path d="M84.2 238.2h0"/><path d="M98.3 236.5h0"/><path d="M95.4 235.8h0"/><path d="M92.1 237.1h0"/><path d="M92.5 238.7h0"/><path d="M93.0 236.1h0"/><path d="M99.3 234.3h0"/><path d="M98.7 233.5h0"/><path d="M90.5 237.7h0"/><path d="M89.3 238.5h0"/><path d="M81.2 236.3h0"/><path d="M95.3 237.4h0"/><path d="M89.0 238.1h0"/><path d="M91.0 236.4h0"/><path d="M102.3 236.7h0"/><path d="M102.0 238.1h0"/><path d="M93.5 237.8h0"/><path d="M89.3 237.0h0"/><path d="M94.4 235.0h0"/><path d="M88.1 234.5h0"/><path d="M97.1 236.5h0"/><path d="M95.7 227.2h0"/><path d="M99.0 238.7h0"/><path d="M90.1 235.1h0"/><path d="M101.2 236.2h0"/><path d="M81.5 236.0h0"/><path d="M82.8 236.2h0"/><path d="M93.7 232.8h0"/><path d="M97.4 236.2h0"/><path d="M96.8 235.7h0"/><path d="M86.4 236.0h0"/><path d="M88.7 237.7h0"/><path d="M89.8 238.6h0"/><path d="M92.3 238.7h0"/><path d="M99.7 238.2h0"/><path d="M97.0 234.1h0"/><path d="M97.9 236.7h0"/><path d="M102.0 237.8h0"/><path d="M98.8 237.5h0"/><path d="M96.8 205.1h0"/><path d="M96.5 237.7h0"/><path d="M94.2 238.0h0"/><path d="M102.8 238.5h0"/><path d="M95.6 236.1h0"/><path d="M92.5 233.6h0"/><path d="M91.9 211.2h0"/><path d="M96.9 238.5h0"/><path d="M97.8 238.1h0"/><path d="M97.6 192.3h0"/><path d="M100.0 237.0h0"/><path d="M90.1 233.4h0"/><path d="M74.2 227.2h0"/><path d="M96.7 233.9h0"/><path d="M95.3 233.6h0"/><path d="M86.7 237.4h0"/><path d="M94.5 238.5h0"/><path d="M96.5 238.3h0"/><path d="M94.1 238.0h0"/><path d="M93.3 236.3h0"/><path d="M99.8 238.1h0"/><path d="M93.8 238.4h0"/></g>
<g stroke="#3b3495" stroke-width="1.24" stroke-linecap="round" stroke-opacity="0.45" fill="none"><path d="M120.4 239.2h0"/><path d="M117.8 238.9h0"/><path d="M100.5 238.9h0"/><path d="M113.7 237.2h0"/><path d="M115.7 238.7h0"/><path d="M100.2 239.0h0"/><path d="M124.1 239.2h0"/><path d="M120.0 239.2h0"/><path d="M95.9 239.3h0"/><path d="M113.9 236.0h0"/><path d="M103.6 239.1h0"/><path d="M117.0 238.9h0"/><path d="M113.1 238.5h0"/><path d="M117.9 239.0h0"/><path d="M111.6 235.5h0"/><path d="M114.3 239.2h0"/><path d="M105.3 238.5h0"/><path d="M127.7 238.9h0"/><path d="M127.5 238.9h0"/><path d="M110.9 238.7h0"/><path d="M106.3 239.1h0"/><path d="M94.6 239.0h0"/><path d="M132.9 239.1h0"/><path d="M109.0 238.7h0"/><path d="M107.0 238.4h0"/><path d="M111.0 239.2h0"/><path d="M102.3 239.2h0"/><path d="M97.9 238.9h0"/><path d="M128.6 239.1h0"/><path d="M114.5 239.0h0"/><path d="M108.8 238.5h0"/><path d="M122.4 239.1h0"/><path d="M102.0 239.0h0"/><path d="M109.6 239.1h0"/><path d="M116.4 239.2h0"/><path d="M102.6 238.9h0"/><path d="M106.9 238.6h0"/><path d="M125.8 239.1h0"/><path d="M113.3 238.7h0"/><path d="M115.9 238.5h0"/><path d="M103.4 239.3h0"/><path d="M128.0 239.2h0"/><path d="M110.9 238.8h0"/><path d="M101.1 239.2h0"/><path d="M112.8 239.2h0"/><path d="M113.0 238.5h0"/><path d="M113.1 239.3h0"/><path d="M110.5 238.9h0"/><path d="M116.9 239.3h0"/><path d="M113.6 238.9h0"/><path d="M121.5 239.0h0"/><path d="M109.7 239.1h0"/><path d="M122.7 238.9h0"/><path d="M100.5 239.2h0"/><path d="M120.8 238.9h0"/><path d="M138.2 239.0h0"/><path d="M127.9 238.9h0"/><path d="M118.6 239.1h0"/><path d="M117.2 239.0h0"/><path d="M123.5 238.9h0"/><path d="M110.9 238.8h0"/><path d="M125.6 239.3h0"/><path d="M114.5 238.4h0"/><path d="M115.7 238.5h0"/><path d="M107.8 239.0h0"/><path d="M120.3 239.0h0"/><path d="M103.9 239.2h0"/><path d="M107.2 239.0h0"/><path d="M110.1 238.8h0"/><path d="M98.1 239.1h0"/><path d="M124.0 238.9h0"/><path d="M117.5 239.1h0"/><path d="M114.7 238.8h0"/><path d="M104.9 238.7h0"/><path d="M121.4 239.0h0"/><path d="M113.9 236.0h0"/><path d="M112.7 239.1h0"/><path d="M110.9 237.0h0"/><path d="M107.2 238.5h0"/><path d="M116.5 239.0h0"/><path d="M127.7 239.3h0"/><path d="M119.9 239.0h0"/><path d="M110.8 238.6h0"/><path d="M93.0 238.9h0"/><path d="M117.9 239.0h0"/><path d="M111.4 232.7h0"/><path d="M109.7 235.9h0"/><path d="M109.6 233.6h0"/><path d="M91.3 239.1h0"/><path d="M113.5 239.2h0"/><path d="M102.6 239.1h0"/><path d="M113.3 237.6h0"/><path d="M110.9 239.1h0"/><path d="M96.0 239.1h0"/><path d="M117.0 239.1h0"/><path d="M104.4 239.1h0"/><path d="M111.3 238.4h0"/><path d="M97.2 239.0h0"/><path d="M106.2 238.8h0"/><path d="M121.7 239.3h0"/><path d="M116.7 239.3h0"/><path d="M118.6 238.9h0"/><path d="M119.2 239.1h0"/><path d="M114.7 238.9h0"/><path d="M119.3 239.2h0"/><path d="M119.7 239.1h0"/><path d="M115.8 239.0h0"/><path d="M114.6 238.7h0"/><path d="M105.6 238.5h0"/><path d="M104.4 239.0h0"/><path d="M103.0 239.2h0"/><path d="M120.7 238.9h0"/><path d="M120.8 239.3h0"/><path d="M118.7 239.1h0"/><path d="M114.9 234.6h0"/><path d="M115.0 238.7h0"/><path d="M113.9 238.7h0"/><path d="M121.0 239.2h0"/><path d="M109.0 238.7h0"/><path d="M107.5 239.0h0"/><path d="M115.5 239.0h0"/><path d="M112.2 238.8h0"/><path d="M102.5 239.1h0"/><path d="M112.6 239.2h0"/><path d="M105.0 239.0h0"/><path d="M127.7 239.2h0"/><path d="M120.6 238.9h0"/><path d="M111.6 239.3h0"/><path d="M110.5 238.6h0"/><path d="M115.4 238.5h0"/><path d="M105.1 239.0h0"/><path d="M122.1 239.1h0"/><path d="M103.0 239.1h0"/><path d="M113.4 238.7h0"/><path d="M95.3 238.9h0"/><path d="M115.1 238.5h0"/><path d="M121.5 239.1h0"/><path d="M99.0 239.1h0"/><path d="M121.1 239.2h0"/><path d="M125.7 239.1h0"/><path d="M131.4 239.0h0"/><path d="M110.3 238.8h0"/><path d="M100.8 239.2h0"/><path d="M129.1 238.9h0"/><path d="M94.6 238.9h0"/><path d="M122.6 239.0h0"/><path d="M130.5 238.9h0"/><path d="M123.6 239.2h0"/><path d="M120.7 238.9h0"/><path d="M113.9 237.6h0"/><path d="M96.4 239.1h0"/><path d="M110.7 237.0h0"/><path d="M108.3 238.8h0"/><path d="M122.5 239.2h0"/><path d="M124.1 238.9h0"/><path d="M114.4 238.5h0"/><path d="M97.6 239.1h0"/><path d="M117.9 238.9h0"/><path d="M111.8 237.8h0"/><path d="M99.5 239.2h0"/><path d="M108.6 238.4h0"/><path d="M100.1 239.3h0"/><path d="M102.7 239.1h0"/><path d="M109.3 238.5h0"/><path d="M104.8 239.1h0"/><path d="M115.9 238.7h0"/><path d="M116.5 239.2h0"/><path d="M120.9 239.0h0"/><path d="M103.1 238.9h0"/><path d="M117.0 239.2h0"/><path d="M102.2 239.1h0"/><path d="M116.9 239.1h0"/><path d="M117.8 239.2h0"/><path d="M96.8 238.9h0"/><path d="M118.7 239.0h0"/><path d="M105.9 238.5h0"/><path d="M107.4 239.1h0"/><path d="M114.3 238.4h0"/><path d="M111.0 238.8h0"/><path d="M112.9 238.6h0"/><path d="M121.5 239.1h0"/><path d="M108.5 239.0h0"/><path d="M115.4 239.3h0"/><path d="M123.0 239.2h0"/><path d="M114.1 239.1h0"/><path d="M132.0 238.9h0"/><path d="M118.1 239.0h0"/><path d="M104.4 238.6h0"/><path d="M104.4 238.6h0"/><path d="M118.2 238.9h0"/><path d="M114.0 239.2h0"/><path d="M129.0 239.1h0"/><path d="M114.9 239.3h0"/><path d="M108.1 238.9h0"/><path d="M126.5 238.9h0"/><path d="M114.3 238.5h0"/><path d="M108.5 239.1h0"/><path d="M121.7 239.1h0"/><path d="M113.5 238.6h0"/><path d="M116.4 239.1h0"/><path d="M105.3 239.1h0"/><path d="M116.3 238.4h0"/><path d="M113.7 238.8h0"/><path d="M107.6 239.0h0"/><path d="M130.8 239.1h0"/><path d="M129.1 239.2h0"/><path d="M109.1 238.5h0"/><path d="M115.6 239.2h0"/><path d="M113.1 239.3h0"/><path d="M123.0 239.2h0"/><path d="M106.6 238.7h0"/><path d="M120.6 239.1h0"/><path d="M99.4 238.9h0"/><path d="M122.8 238.9h0"/><path d="M111.7 237.5h0"/><path d="M99.4 239.3h0"/><path d="M116.1 239.2h0"/><path d="M125.5 239.0h0"/><path d="M107.4 238.5h0"/><path d="M104.9 238.8h0"/><path d="M106.1 239.3h0"/><path d="M131.9 238.9h0"/><path d="M113.6 230.7h0"/><path d="M116.4 238.7h0"/><path d="M106.6 239.2h0"/><path d="M118.3 239.2h0"/><path d="M107.4 238.4h0"/><path d="M118.6 239.1h0"/><path d="M111.0 238.8h0"/><path d="M115.2 238.6h0"/><path d="M107.5 238.7h0"/><path d="M122.6 239.3h0"/><path d="M112.9 238.6h0"/><path d="M134.6 239.3h0"/><path d="M125.1 239.0h0"/><path d="M114.4 239.0h0"/><path d="M122.9 239.1h0"/><path d="M103.0 239.1h0"/><path d="M115.7 238.9h0"/><path d="M100.7 239.0h0"/><path d="M126.4 238.9h0"/><path d="M106.9 239.1h0"/><path d="M105.2 238.7h0"/><path d="M93.6 239.3h0"/><path d="M125.5 238.9h0"/><path d="M116.7 239.2h0"/><path d="M120.7 239.0h0"/><path d="M110.3 239.0h0"/><path d="M114.9 238.6h0"/><path d="M105.0 239.3h0"/><path d="M108.2 239.0h0"/><path d="M111.1 237.8h0"/><path d="M99.2 239.1h0"/><path d="M121.2 239.0h0"/><path d="M99.7 239.2h0"/><path d="M117.4 238.9h0"/><path d="M106.3 239.3h0"/><path d="M96.8 239.1h0"/><path d="M110.8 238.7h0"/><path d="M111.3 238.9h0"/><path d="M114.7 239.1h0"/><path d="M120.6 239.1h0"/><path d="M115.6 235.1h0"/><path d="M111.9 238.8h0"/><path d="M113.9 238.6h0"/><path d="M118.1 239.0h0"/><path d="M103.6 239.2h0"/><path d="M122.4 239.2h0"/><path d="M107.5 238.9h0"/><path d="M115.8 238.7h0"/><path d="M117.6 239.1h0"/><path d="M122.0 239.0h0"/><path d="M107.7 238.5h0"/><path d="M124.5 238.9h0"/><path d="M111.0 239.1h0"/><path d="M110.9 238.8h0"/><path d="M135.4 239.3h0"/><path d="M103.2 239.1h0"/><path d="M104.7 238.8h0"/><path d="M115.6 239.0h0"/><path d="M108.9 238.7h0"/><path d="M117.3 239.0h0"/><path d="M108.2 238.9h0"/><path d="M108.3 238.6h0"/><path d="M107.3 239.0h0"/><path d="M103.6 239.0h0"/><path d="M109.8 239.1h0"/><path d="M111.0 238.5h0"/><path d="M104.7 239.2h0"/><path d="M112.6 238.7h0"/><path d="M102.2 239.0h0"/><path d="M116.5 238.7h0"/><path d="M105.6 238.5h0"/><path d="M103.6 239.1h0"/><path d="M113.5 235.7h0"/><path d="M119.2 239.0h0"/><path d="M115.9 238.7h0"/><path d="M123.4 238.9h0"/><path d="M107.5 238.7h0"/><path d="M110.4 238.6h0"/><path d="M109.0 238.7h0"/><path d="M112.4 239.2h0"/><path d="M99.3 238.9h0"/><path d="M108.9 239.1h0"/><path d="M111.5 238.9h0"/><path d="M127.5 239.2h0"/><path d="M107.5 239.2h0"/><path d="M104.2 239.1h0"/><path d="M121.0 239.0h0"/><path d="M99.1 239.2h0"/><path d="M113.5 239.2h0"/><path d="M102.9 239.1h0"/><path d="M116.8 239.2h0"/><path d="M112.0 239.0h0"/><path d="M106.7 238.8h0"/><path d="M116.4 239.1h0"/><path d="M108.8 239.0h0"/><path d="M112.0 238.6h0"/><path d="M117.7 239.2h0"/><path d="M114.7 238.0h0"/><path d="M113.6 239.2h0"/><path d="M140.9 239.2h0"/><path d="M114.0 238.8h0"/><path d="M108.3 238.9h0"/><path d="M111.2 238.5h0"/><path d="M105.4 238.9h0"/><path d="M126.6 239.0h0"/><path d="M125.2 239.1h0"/><path d="M109.6 239.0h0"/><path d="M121.8 239.0h0"/><path d="M109.3 238.4h0"/><path d="M127.5 239.0h0"/><path d="M129.0 238.9h0"/><path d="M115.0 230.9h0"/><path d="M110.3 222.7h0"/><path d="M95.8 239.3h0"/><path d="M97.3 238.9h0"/><path d="M110.9 238.7h0"/><path d="M123.7 238.9h0"/><path d="M111.7 225.6h0"/><path d="M112.1 239.1h0"/><path d="M110.5 239.2h0"/><path d="M134.4 239.2h0"/><path d="M115.3 238.6h0"/><path d="M102.1 238.9h0"/><path d="M105.8 238.9h0"/><path d="M107.6 238.5h0"/><path d="M125.5 239.3h0"/><path d="M108.1 238.5h0"/><path d="M111.0 239.0h0"/><path d="M130.8 238.9h0"/><path d="M111.0 223.0h0"/><path d="M114.0 238.5h0"/><path d="M109.3 234.3h0"/><path d="M122.6 239.0h0"/><path d="M99.3 239.0h0"/><path d="M113.0 238.8h0"/><path d="M116.8 239.1h0"/><path d="M111.9 238.4h0"/><path d="M120.7 238.9h0"/><path d="M112.6 235.6h0"/><path d="M107.7 239.0h0"/><path d="M127.6 238.9h0"/><path d="M122.7 239.0h0"/><path d="M106.2 239.1h0"/><path d="M114.2 239.3h0"/><path d="M113.8 225.9h0"/><path d="M116.9 239.3h0"/><path d="M115.2 238.6h0"/><path d="M133.9 238.9h0"/><path d="M119.8 238.9h0"/><path d="M109.4 239.3h0"/><path d="M124.2 239.2h0"/><path d="M112.1 238.6h0"/><path d="M106.0 239.2h0"/><path d="M122.6 239.2h0"/><path d="M94.2 239.1h0"/><path d="M109.3 239.1h0"/><path d="M103.2 239.0h0"/><path d="M109.5 238.4h0"/><path d="M123.9 239.0h0"/><path d="M115.9 238.5h0"/><path d="M99.7 239.0h0"/><path d="M113.2 239.3h0"/><path d="M108.6 238.9h0"/><path d="M97.8 238.9h0"/><path d="M108.5 238.8h0"/><path d="M114.4 239.0h0"/><path d="M119.2 239.0h0"/><path d="M121.1 239.0h0"/><path d="M111.2 239.1h0"/><path d="M89.3 239.2h0"/><path d="M108.8 231.4h0"/><path d="M116.1 238.5h0"/><path d="M107.5 239.0h0"/><path d="M104.4 239.3h0"/><path d="M115.4 238.9h0"/><path d="M95.2 239.1h0"/><path d="M111.0 238.8h0"/><path d="M100.6 239.1h0"/><path d="M105.3 239.2h0"/><path d="M122.9 239.2h0"/><path d="M110.1 238.6h0"/><path d="M120.3 239.3h0"/><path d="M120.2 239.1h0"/><path d="M124.2 239.2h0"/><path d="M124.9 239.2h0"/><path d="M118.9 239.3h0"/><path d="M128.8 239.0h0"/><path d="M118.6 239.3h0"/><path d="M107.8 238.9h0"/><path d="M120.9 238.9h0"/><path d="M133.1 239.1h0"/><path d="M117.9 239.1h0"/><path d="M112.2 238.9h0"/><path d="M112.5 238.7h0"/><path d="M125.2 238.9h0"/><path d="M91.8 239.2h0"/><path d="M110.2 238.9h0"/><path d="M115.9 235.1h0"/><path d="M103.6 239.1h0"/><path d="M118.4 239.3h0"/><path d="M117.8 239.1h0"/><path d="M118.8 239.1h0"/><path d="M102.6 239.1h0"/><path d="M113.3 238.8h0"/><path d="M108.9 238.8h0"/><path d="M104.5 238.7h0"/><path d="M111.7 239.2h0"/><path d="M100.4 239.0h0"/><path d="M113.1 239.2h0"/><path d="M121.0 239.0h0"/><path d="M111.0 239.0h0"/><path d="M115.2 239.1h0"/><path d="M112.4 239.1h0"/><path d="M124.0 239.3h0"/><path d="M116.6 238.9h0"/><path d="M119.1 239.3h0"/><path d="M120.1 239.3h0"/><path d="M111.3 236.0h0"/><path d="M111.9 237.6h0"/><path d="M115.5 238.4h0"/><path d="M112.3 238.8h0"/><path d="M110.4 238.5h0"/><path d="M115.0 238.8h0"/><path d="M91.0 239.0h0"/><path d="M117.8 238.9h0"/><path d="M108.9 238.7h0"/><path d="M102.0 238.9h0"/><path d="M115.2 238.6h0"/><path d="M101.1 239.1h0"/><path d="M118.3 239.2h0"/><path d="M131.9 239.2h0"/><path d="M124.3 239.1h0"/><path d="M123.4 239.2h0"/><path d="M115.7 238.6h0"/><path d="M126.6 238.9h0"/><path d="M118.4 238.9h0"/><path d="M110.0 239.1h0"/><path d="M113.0 238.9h0"/><path d="M109.8 239.1h0"/><path d="M104.1 238.9h0"/><path d="M112.6 239.0h0"/><path d="M99.0 239.1h0"/><path d="M107.7 238.9h0"/><path d="M109.4 239.1h0"/><path d="M114.6 238.8h0"/><path d="M113.9 233.8h0"/><path d="M99.6 239.2h0"/><path d="M96.9 239.3h0"/><path d="M117.1 239.0h0"/><path d="M108.9 239.1h0"/><path d="M102.5 239.3h0"/><path d="M123.7 239.2h0"/><path d="M97.1 239.3h0"/><path d="M114.4 239.0h0"/><path d="M108.0 238.8h0"/><path d="M112.7 238.9h0"/><path d="M123.2 239.2h0"/><path d="M114.7 235.3h0"/><path d="M110.9 239.2h0"/><path d="M110.4 238.8h0"/><path d="M113.1 238.4h0"/><path d="M106.4 239.1h0"/><path d="M105.5 239.2h0"/><path d="M112.5 238.8h0"/><path d="M120.2 239.0h0"/><path d="M108.7 238.6h0"/><path d="M122.8 238.9h0"/><path d="M103.9 239.2h0"/><path d="M112.4 238.9h0"/><path d="M113.1 232.5h0"/><path d="M98.8 239.0h0"/><path d="M114.1 238.6h0"/><path d="M111.8 237.9h0"/><path d="M118.9 238.9h0"/><path d="M114.4 234.0h0"/><path d="M109.8 237.9h0"/><path d="M100.3 238.9h0"/><path d="M123.9 239.1h0"/><path d="M108.7 239.0h0"/><path d="M123.9 239.1h0"/><path d="M101.5 239.1h0"/><path d="M107.7 238.9h0"/><path d="M125.5 239.0h0"/><path d="M117.0 238.9h0"/><path d="M118.3 238.9h0"/><path d="M104.8 238.8h0"/><path d="M109.5 238.4h0"/><path d="M114.4 238.6h0"/><path d="M122.9 239.0h0"/><path d="M120.9 239.3h0"/><path d="M98.4 239.0h0"/><path d="M110.1 239.1h0"/><path d="M112.8 238.8h0"/><path d="M112.9 238.7h0"/><path d="M126.3 238.9h0"/><path d="M114.0 238.6h0"/><path d="M106.3 239.0h0"/><path d="M101.5 239.1h0"/><path d="M110.6 238.3h0"/><path d="M124.3 239.3h0"/><path d="M98.8 239.1h0"/><path d="M115.4 233.7h0"/><path d="M113.0 238.9h0"/><path d="M116.4 238.8h0"/><path d="M111.4 239.0h0"/><path d="M121.1 239.3h0"/><path d="M105.6 238.5h0"/><path d="M119.6 239.1h0"/><path d="M111.3 235.9h0"/><path d="M115.7 238.6h0"/><path d="M111.9 238.7h0"/><path d="M124.0 239.1h0"/><path d="M119.2 238.9h0"/><path d="M102.5 239.2h0"/><path d="M101.2 239.1h0"/><path d="M113.4 238.9h0"/><path d="M117.0 239.1h0"/><path d="M108.2 239.3h0"/><path d="M112.1 220.8h0"/><path d="M113.0 239.0h0"/><path d="M115.6 239.0h0"/><path d="M109.7 238.5h0"/><path d="M110.4 239.3h0"/><path d="M110.0 238.9h0"/><path d="M110.2 239.1h0"/><path d="M121.2 239.2h0"/><path d="M102.2 239.0h0"/><path d="M125.6 238.9h0"/><path d="M95.2 239.1h0"/><path d="M115.9 234.7h0"/><path d="M126.6 239.3h0"/><path d="M112.2 239.2h0"/><path d="M108.0 239.0h0"/><path d="M115.5 239.2h0"/><path d="M114.6 238.5h0"/><path d="M117.8 239.3h0"/><path d="M101.1 238.9h0"/><path d="M111.7 238.8h0"/><path d="M116.3 239.0h0"/><path d="M125.3 239.3h0"/><path d="M112.6 238.7h0"/><path d="M109.0 238.7h0"/><path d="M106.6 239.1h0"/><path d="M110.7 239.1h0"/><path d="M92.5 238.9h0"/><path d="M111.2 238.7h0"/><path d="M114.7 238.8h0"/><path d="M111.0 239.1h0"/><path d="M125.8 238.9h0"/><path d="M118.2 239.3h0"/><path d="M110.7 239.0h0"/><path d="M110.4 239.0h0"/><path d="M119.0 239.2h0"/><path d="M119.2 239.3h0"/><path d="M103.9 239.2h0"/><path d="M110.5 238.9h0"/><path d="M113.0 227.3h0"/><path d="M98.9 239.1h0"/><path d="M91.2 239.3h0"/><path d="M118.3 238.9h0"/><path d="M123.5 239.1h0"/><path d="M107.7 238.4h0"/><path d="M113.4 239.0h0"/><path d="M116.2 239.0h0"/><path d="M115.3 238.9h0"/><path d="M113.4 238.9h0"/><path d="M110.4 239.2h0"/><path d="M114.5 227.8h0"/><path d="M111.8 238.9h0"/><path d="M109.7 239.2h0"/><path d="M111.2 238.8h0"/><path d="M107.4 239.1h0"/><path d="M117.9 239.1h0"/><path d="M98.0 239.3h0"/><path d="M115.5 239.1h0"/><path d="M112.8 239.2h0"/><path d="M112.3 238.7h0"/><path d="M114.3 238.8h0"/><path d="M113.5 238.7h0"/><path d="M120.5 238.9h0"/><path d="M113.7 238.8h0"/><path d="M111.9 238.5h0"/><path d="M112.0 239.1h0"/><path d="M116.5 238.9h0"/><path d="M115.7 238.8h0"/><path d="M108.5 239.0h0"/><path d="M98.6 239.1h0"/><path d="M120.4 239.2h0"/><path d="M115.0 238.7h0"/><path d="M109.9 238.8h0"/><path d="M114.7 238.7h0"/><path d="M127.0 239.2h0"/><path d="M131.4 239.0h0"/><path d="M119.1 238.9h0"/><path d="M106.3 239.2h0"/><path d="M105.0 239.2h0"/><path d="M116.0 239.1h0"/><path d="M111.8 238.8h0"/><path d="M99.7 239.2h0"/><path d="M88.0 239.1h0"/><path d="M113.4 238.5h0"/><path d="M102.1 238.9h0"/><path d="M125.0 238.9h0"/><path d="M111.9 239.3h0"/><path d="M117.3 239.0h0"/><path d="M100.2 239.1h0"/><path d="M110.3 238.9h0"/><path d="M122.1 239.1h0"/><path d="M114.1 238.5h0"/><path d="M98.5 239.3h0"/><path d="M125.8 239.1h0"/><path d="M108.2 239.2h0"/><path d="M113.5 238.5h0"/><path d="M115.0 239.3h0"/><path d="M131.0 239.0h0"/><path d="M107.4 238.6h0"/><path d="M117.8 239.2h0"/><path d="M109.8 238.5h0"/><path d="M109.1 238.4h0"/><path d="M123.0 238.9h0"/><path d="M111.2 238.7h0"/><path d="M118.9 239.1h0"/><path d="M107.0 239.3h0"/><path d="M96.8 239.2h0"/><path d="M98.7 238.9h0"/><path d="M98.8 238.9h0"/><path d="M122.2 239.0h0"/><path d="M101.7 239.2h0"/></g>
<g stroke="#cf4a33" stroke-width="1.24" stroke-linecap="round" stroke-opacity="0.38" fill="none"><path d="M290.3 237.7h0"/><path d="M293.7 237.1h0"/><path d="M287.0 237.7h0"/><path d="M293.2 231.0h0"/><path d="M306.6 230.1h0"/><path d="M292.0 237.5h0"/><path d="M303.0 229.9h0"/><path d="M292.9 233.4h0"/><path d="M288.7 210.1h0"/><path d="M284.1 235.8h0"/><path d="M292.0 236.8h0"/><path d="M290.6 235.3h0"/><path d="M289.5 234.9h0"/><path d="M284.4 236.8h0"/><path d="M287.3 233.0h0"/><path d="M284.1 237.0h0"/><path d="M284.1 226.6h0"/><path d="M296.8 231.4h0"/><path d="M292.7 186.9h0"/><path d="M290.0 237.6h0"/><path d="M284.1 237.9h0"/><path d="M288.3 234.6h0"/><path d="M284.3 234.3h0"/><path d="M284.0 235.4h0"/><path d="M285.5 235.9h0"/><path d="M287.4 234.3h0"/><path d="M287.5 237.1h0"/><path d="M283.8 233.8h0"/><path d="M287.2 237.5h0"/><path d="M307.0 237.8h0"/><path d="M286.9 237.7h0"/><path d="M294.1 228.2h0"/><path d="M298.0 232.8h0"/><path d="M284.4 236.1h0"/><path d="M303.3 233.4h0"/><path d="M298.8 237.9h0"/><path d="M299.3 231.5h0"/><path d="M295.6 237.8h0"/><path d="M285.7 233.1h0"/><path d="M283.3 233.7h0"/><path d="M293.9 235.6h0"/><path d="M287.3 234.8h0"/><path d="M285.3 235.6h0"/><path d="M291.1 233.8h0"/><path d="M288.5 235.7h0"/><path d="M286.2 236.3h0"/><path d="M292.6 237.6h0"/><path d="M288.6 236.1h0"/><path d="M292.3 236.5h0"/><path d="M289.5 236.2h0"/><path d="M299.1 233.0h0"/><path d="M291.9 236.1h0"/><path d="M306.6 236.2h0"/><path d="M305.2 237.6h0"/><path d="M284.8 235.5h0"/><path d="M295.0 235.3h0"/><path d="M296.5 230.3h0"/><path d="M288.9 236.6h0"/><path d="M295.3 237.9h0"/><path d="M287.4 179.7h0"/><path d="M307.4 231.8h0"/><path d="M290.5 236.0h0"/><path d="M288.6 232.3h0"/><path d="M290.4 236.6h0"/><path d="M290.6 234.9h0"/><path d="M299.9 236.8h0"/><path d="M296.7 236.0h0"/><path d="M296.0 236.0h0"/><path d="M287.1 237.4h0"/><path d="M288.3 231.4h0"/><path d="M286.1 236.0h0"/><path d="M293.4 233.5h0"/><path d="M288.7 237.8h0"/><path d="M288.2 235.9h0"/><path d="M303.7 232.0h0"/><path d="M292.8 233.5h0"/><path d="M284.5 233.9h0"/><path d="M290.2 235.0h0"/><path d="M290.1 234.7h0"/><path d="M283.5 236.1h0"/><path d="M287.3 237.6h0"/><path d="M286.5 236.5h0"/><path d="M289.9 232.2h0"/><path d="M267.7 233.3h0"/><path d="M252.8 234.8h0"/><path d="M253.5 233.7h0"/><path d="M263.7 232.7h0"/><path d="M252.1 234.7h0"/><path d="M266.4 204.3h0"/><path d="M255.1 236.8h0"/><path d="M242.6 237.8h0"/><path d="M258.4 235.5h0"/><path d="M259.4 233.0h0"/><path d="M245.9 236.1h0"/><path d="M254.8 237.1h0"/><path d="M245.4 236.0h0"/><path d="M241.8 236.5h0"/><path d="M269.7 237.6h0"/><path d="M245.2 234.9h0"/><path d="M257.7 230.4h0"/><path d="M269.4 236.9h0"/><path d="M267.2 236.1h0"/><path d="M266.6 235.9h0"/><path d="M251.5 236.0h0"/><path d="M263.0 237.7h0"/><path d="M265.0 235.4h0"/><path d="M263.9 236.0h0"/><path d="M266.6 228.8h0"/><path d="M269.5 236.5h0"/><path d="M269.3 237.5h0"/><path d="M254.7 235.9h0"/><path d="M265.6 235.3h0"/><path d="M251.6 232.4h0"/><path d="M267.1 237.5h0"/><path d="M262.5 236.8h0"/><path d="M268.1 231.6h0"/><path d="M256.1 237.4h0"/><path d="M262.4 234.6h0"/><path d="M262.8 235.3h0"/><path d="M266.1 237.8h0"/><path d="M249.4 227.6h0"/><path d="M261.7 236.5h0"/><path d="M262.6 237.0h0"/><path d="M242.4 237.8h0"/><path d="M264.0 237.7h0"/><path d="M266.3 233.9h0"/><path d="M252.6 200.0h0"/><path d="M266.2 237.8h0"/><path d="M253.4 237.3h0"/><path d="M257.2 236.6h0"/><path d="M263.1 235.0h0"/><path d="M259.6 237.2h0"/><path d="M248.8 233.2h0"/><path d="M254.8 236.3h0"/><path d="M259.5 237.8h0"/><path d="M264.2 237.0h0"/><path d="M259.0 229.3h0"/><path d="M268.4 236.8h0"/><path d="M270.3 237.1h0"/><path d="M268.0 237.1h0"/><path d="M258.4 232.9h0"/><path d="M260.6 235.7h0"/><path d="M263.3 236.4h0"/><path d="M267.5 236.7h0"/><path d="M266.7 236.0h0"/><path d="M263.8 237.1h0"/><path d="M257.5 233.7h0"/><path d="M259.3 235.3h0"/><path d="M256.2 236.7h0"/><path d="M247.8 232.5h0"/><path d="M263.8 237.2h0"/><path d="M265.7 237.3h0"/><path d="M251.8 237.2h0"/><path d="M257.4 231.1h0"/><path d="M270.2 237.7h0"/></g>
<g stroke="#3b3495" stroke-width="1.24" stroke-linecap="round" stroke-opacity="0.45" fill="none"><path d="M278.6 236.0h0"/><path d="M279.1 238.0h0"/><path d="M297.9 238.2h0"/><path d="M277.7 237.6h0"/><path d="M271.2 238.4h0"/><path d="M281.6 238.0h0"/><path d="M259.8 238.2h0"/><path d="M271.4 237.7h0"/><path d="M275.0 234.1h0"/><path d="M261.2 238.2h0"/><path d="M279.6 238.0h0"/><path d="M275.3 237.7h0"/><path d="M274.1 238.0h0"/><path d="M277.6 237.5h0"/><path d="M266.1 238.1h0"/><path d="M265.6 238.3h0"/><path d="M288.5 238.0h0"/><path d="M284.2 238.2h0"/><path d="M268.4 238.0h0"/><path d="M266.4 238.3h0"/><path d="M266.9 238.4h0"/><path d="M271.0 238.2h0"/><path d="M270.5 238.2h0"/><path d="M273.8 238.0h0"/><path d="M284.7 238.3h0"/><path d="M290.0 238.0h0"/><path d="M279.4 237.7h0"/><path d="M283.0 238.3h0"/><path d="M284.0 238.1h0"/><path d="M291.1 238.0h0"/><path d="M276.6 237.5h0"/><path d="M273.5 237.6h0"/><path d="M285.7 238.0h0"/><path d="M275.8 237.8h0"/><path d="M273.6 237.8h0"/><path d="M296.9 238.0h0"/><path d="M280.6 238.4h0"/><path d="M279.1 237.6h0"/><path d="M274.3 237.8h0"/><path d="M281.1 238.0h0"/><path d="M279.5 237.8h0"/><path d="M279.3 237.8h0"/><path d="M276.0 238.4h0"/><path d="M280.0 238.4h0"/><path d="M273.6 238.1h0"/><path d="M268.3 237.9h0"/><path d="M273.1 237.8h0"/><path d="M273.6 238.1h0"/><path d="M272.5 237.5h0"/><path d="M288.5 238.3h0"/><path d="M271.2 238.3h0"/><path d="M279.0 237.8h0"/><path d="M285.3 238.0h0"/><path d="M268.7 238.2h0"/><path d="M281.6 238.3h0"/><path d="M276.8 237.9h0"/><path d="M264.2 238.2h0"/><path d="M276.1 238.2h0"/><path d="M278.4 238.0h0"/><path d="M279.4 237.5h0"/><path d="M290.6 238.3h0"/><path d="M272.5 237.5h0"/><path d="M275.9 237.9h0"/><path d="M271.7 237.8h0"/><path d="M285.5 238.4h0"/><path d="M272.4 238.3h0"/><path d="M286.1 238.3h0"/><path d="M283.6 238.0h0"/><path d="M282.2 238.1h0"/><path d="M269.5 238.4h0"/><path d="M275.0 237.9h0"/><path d="M276.0 238.1h0"/><path d="M285.9 237.9h0"/><path d="M297.3 238.0h0"/><path d="M283.5 238.0h0"/><path d="M279.6 237.9h0"/><path d="M272.7 237.0h0"/><path d="M282.0 238.1h0"/><path d="M271.3 237.7h0"/><path d="M281.5 238.1h0"/><path d="M278.6 234.3h0"/><path d="M270.6 237.5h0"/><path d="M259.5 238.4h0"/><path d="M279.9 237.9h0"/><path d="M275.2 237.9h0"/><path d="M275.8 238.0h0"/><path d="M274.1 238.0h0"/><path d="M287.9 238.2h0"/><path d="M276.7 238.0h0"/><path d="M284.1 238.4h0"/><path d="M293.2 238.3h0"/><path d="M283.8 238.4h0"/><path d="M278.0 237.6h0"/><path d="M271.2 234.5h0"/><path d="M291.3 238.2h0"/><path d="M272.1 238.0h0"/><path d="M276.3 225.0h0"/><path d="M285.7 238.0h0"/><path d="M272.0 237.6h0"/><path d="M280.0 237.9h0"/><path d="M280.9 237.9h0"/><path d="M288.7 238.0h0"/><path d="M279.0 237.4h0"/><path d="M282.8 237.4h0"/><path d="M275.6 236.3h0"/><path d="M280.1 238.3h0"/><path d="M277.7 237.6h0"/><path d="M262.9 238.0h0"/><path d="M272.8 237.8h0"/><path d="M277.4 237.5h0"/><path d="M266.9 238.4h0"/><path d="M278.3 238.3h0"/><path d="M285.9 238.2h0"/><path d="M286.3 238.4h0"/><path d="M284.3 238.3h0"/><path d="M283.8 238.0h0"/><path d="M283.7 238.2h0"/><path d="M286.0 238.1h0"/><path d="M290.9 238.2h0"/><path d="M273.2 237.9h0"/><path d="M272.7 237.5h0"/><path d="M275.4 237.7h0"/><path d="M289.0 238.2h0"/><path d="M278.8 238.1h0"/><path d="M271.9 238.0h0"/><path d="M275.6 237.8h0"/><path d="M282.8 237.4h0"/><path d="M271.4 237.7h0"/><path d="M282.4 237.8h0"/><path d="M288.5 238.0h0"/><path d="M266.5 238.0h0"/><path d="M283.2 238.3h0"/><path d="M276.8 238.2h0"/><path d="M275.2 238.0h0"/><path d="M276.0 237.5h0"/><path d="M276.8 236.5h0"/><path d="M274.5 238.0h0"/><path d="M284.3 238.1h0"/><path d="M269.1 238.2h0"/><path d="M278.6 236.8h0"/><path d="M282.3 238.3h0"/><path d="M275.3 237.6h0"/><path d="M288.5 238.1h0"/><path d="M282.2 238.0h0"/><path d="M302.6 238.3h0"/><path d="M272.5 236.1h0"/><path d="M279.7 237.7h0"/><path d="M274.4 237.7h0"/><path d="M285.1 238.4h0"/><path d="M265.5 238.3h0"/><path d="M276.9 238.2h0"/><path d="M266.7 238.4h0"/><path d="M280.0 238.3h0"/><path d="M282.7 238.2h0"/><path d="M275.6 237.5h0"/><path d="M275.8 237.8h0"/><path d="M272.4 238.3h0"/><path d="M257.6 238.1h0"/><path d="M278.5 237.7h0"/><path d="M270.6 223.9h0"/><path d="M282.2 238.0h0"/><path d="M264.9 238.1h0"/><path d="M277.2 230.4h0"/><path d="M279.2 238.0h0"/><path d="M275.9 237.8h0"/><path d="M269.0 238.1h0"/><path d="M279.1 237.8h0"/><path d="M275.3 238.0h0"/><path d="M292.9 238.3h0"/><path d="M280.2 238.0h0"/><path d="M286.1 238.0h0"/><path d="M279.0 238.0h0"/><path d="M290.7 238.3h0"/><path d="M271.4 238.3h0"/><path d="M267.2 238.3h0"/><path d="M279.2 237.8h0"/><path d="M283.8 238.0h0"/><path d="M277.2 238.1h0"/><path d="M290.9 238.0h0"/><path d="M284.1 237.9h0"/></g>
<g stroke="#cf4a33" stroke-width="1.24" stroke-linecap="round" stroke-opacity="0.38" fill="none"><path d="M451.4 217.3h0"/><path d="M457.3 234.2h0"/><path d="M450.5 237.7h0"/><path d="M461.0 236.9h0"/><path d="M453.3 237.0h0"/><path d="M457.8 231.7h0"/><path d="M453.2 237.5h0"/><path d="M459.8 211.4h0"/><path d="M454.5 239.0h0"/><path d="M455.1 237.5h0"/><path d="M431.7 235.1h0"/><path d="M416.7 236.6h0"/><path d="M430.7 237.2h0"/><path d="M434.0 239.0h0"/><path d="M431.1 237.3h0"/><path d="M435.2 237.2h0"/><path d="M435.6 231.9h0"/><path d="M424.1 238.3h0"/><path d="M426.3 236.9h0"/><path d="M435.7 238.7h0"/><path d="M423.7 222.8h0"/><path d="M428.8 237.1h0"/><path d="M436.6 236.9h0"/><path d="M418.0 236.4h0"/><path d="M435.2 232.9h0"/><path d="M432.1 237.1h0"/><path d="M420.2 232.1h0"/><path d="M429.9 238.4h0"/><path d="M427.6 236.7h0"/><path d="M430.8 238.5h0"/><path d="M421.8 233.8h0"/><path d="M432.3 237.4h0"/><path d="M432.1 233.9h0"/><path d="M437.1 234.6h0"/><path d="M428.6 237.5h0"/><path d="M431.1 232.8h0"/><path d="M431.0 232.4h0"/><path d="M427.1 233.9h0"/></g>
<g stroke="#3b3495" stroke-width="1.24" stroke-linecap="round" stroke-opacity="0.45" fill="none"><path d="M450.6 239.4h0"/><path d="M432.5 239.3h0"/><path d="M448.4 239.0h0"/><path d="M452.4 239.4h0"/><path d="M445.0 238.9h0"/><path d="M439.6 238.5h0"/><path d="M435.9 239.5h0"/><path d="M442.7 239.1h0"/><path d="M442.6 239.5h0"/><path d="M442.3 239.4h0"/><path d="M443.4 238.7h0"/><path d="M447.0 239.0h0"/><path d="M444.0 239.2h0"/><path d="M443.7 239.2h0"/><path d="M447.9 238.7h0"/><path d="M445.2 239.4h0"/><path d="M439.9 238.7h0"/><path d="M450.0 239.4h0"/><path d="M440.4 239.5h0"/><path d="M439.6 239.1h0"/><path d="M451.3 239.4h0"/><path d="M442.3 239.6h0"/><path d="M444.6 237.8h0"/><path d="M435.7 239.4h0"/><path d="M435.2 239.5h0"/><path d="M449.2 238.7h0"/><path d="M442.9 239.0h0"/><path d="M450.3 239.4h0"/><path d="M443.0 238.6h0"/><path d="M442.4 239.5h0"/><path d="M450.0 239.2h0"/><path d="M445.9 239.6h0"/><path d="M433.5 239.5h0"/><path d="M444.6 239.3h0"/><path d="M439.7 238.6h0"/><path d="M438.9 239.0h0"/><path d="M439.8 238.9h0"/><path d="M447.0 238.9h0"/><path d="M441.4 239.1h0"/><path d="M447.8 239.3h0"/><path d="M442.5 239.4h0"/><path d="M443.0 238.7h0"/><path d="M442.9 238.8h0"/><path d="M443.5 239.0h0"/><path d="M439.5 238.7h0"/><path d="M439.1 239.2h0"/><path d="M445.3 238.8h0"/><path d="M448.0 237.3h0"/><path d="M448.2 239.3h0"/><path d="M446.4 239.1h0"/><path d="M442.1 239.1h0"/><path d="M448.0 238.8h0"/><path d="M440.4 236.3h0"/><path d="M449.9 239.0h0"/><path d="M446.6 232.1h0"/><path d="M443.3 238.8h0"/><path d="M442.1 239.0h0"/><path d="M443.1 239.3h0"/><path d="M440.9 239.5h0"/><path d="M441.0 239.0h0"/><path d="M438.9 238.7h0"/><path d="M438.3 237.9h0"/><path d="M445.5 238.7h0"/><path d="M439.4 239.0h0"/><path d="M445.8 238.7h0"/><path d="M451.9 239.5h0"/><path d="M446.8 239.1h0"/><path d="M436.5 239.5h0"/><path d="M441.2 239.4h0"/><path d="M440.8 239.4h0"/><path d="M443.5 238.9h0"/><path d="M441.9 239.5h0"/><path d="M435.8 239.6h0"/><path d="M440.4 238.8h0"/><path d="M441.5 239.3h0"/><path d="M452.6 239.6h0"/><path d="M445.5 238.7h0"/><path d="M444.3 238.7h0"/><path d="M446.5 238.8h0"/><path d="M440.1 239.4h0"/><path d="M440.1 239.0h0"/><path d="M441.5 238.8h0"/><path d="M445.8 238.8h0"/><path d="M447.8 239.0h0"/><path d="M438.4 238.9h0"/></g>
<g stroke="#cf4a33" stroke-width="1.24" stroke-linecap="round" stroke-opacity="0.38" fill="none"><path d="M137.9 330.0h0"/><path d="M128.2 344.2h0"/><path d="M123.4 344.0h0"/><path d="M130.5 339.3h0"/><path d="M148.1 344.5h0"/><path d="M119.8 340.2h0"/><path d="M119.8 338.8h0"/><path d="M121.9 340.7h0"/><path d="M135.1 343.6h0"/><path d="M119.2 314.4h0"/><path d="M132.4 340.6h0"/><path d="M122.7 337.6h0"/><path d="M128.6 345.4h0"/><path d="M124.7 343.7h0"/><path d="M125.7 340.6h0"/><path d="M118.9 343.4h0"/><path d="M136.5 339.5h0"/><path d="M147.1 343.8h0"/><path d="M134.0 301.8h0"/><path d="M128.8 341.0h0"/><path d="M120.4 345.8h0"/><path d="M127.7 345.2h0"/><path d="M123.3 344.9h0"/><path d="M132.6 335.0h0"/><path d="M135.9 340.4h0"/><path d="M133.1 339.7h0"/><path d="M146.8 344.7h0"/><path d="M127.6 345.9h0"/><path d="M120.2 344.0h0"/><path d="M121.8 343.6h0"/><path d="M145.5 339.2h0"/><path d="M99.9 315.8h0"/><path d="M88.8 344.3h0"/><path d="M102.0 342.6h0"/><path d="M74.1 290.4h0"/><path d="M102.4 343.8h0"/><path d="M67.5 324.9h0"/><path d="M76.9 343.5h0"/><path d="M102.8 344.1h0"/><path d="M102.4 340.8h0"/><path d="M102.6 337.5h0"/><path d="M97.1 345.8h0"/><path d="M91.2 342.5h0"/><path d="M102.6 339.0h0"/><path d="M101.1 344.6h0"/><path d="M96.0 344.5h0"/><path d="M100.8 344.5h0"/><path d="M76.0 344.5h0"/><path d="M96.2 345.1h0"/><path d="M91.1 343.4h0"/><path d="M70.5 335.4h0"/><path d="M96.1 344.3h0"/><path d="M101.8 344.0h0"/><path d="M103.6 345.0h0"/><path d="M90.5 341.4h0"/><path d="M81.9 344.7h0"/></g>
<g stroke="#3b3495" stroke-width="1.24" stroke-linecap="round" stroke-opacity="0.45" fill="none"><path d="M110.6 346.4h0"/><path d="M109.6 346.4h0"/><path d="M112.3 345.6h0"/><path d="M102.9 346.3h0"/><path d="M115.9 345.5h0"/><path d="M124.0 346.4h0"/><path d="M111.9 345.6h0"/><path d="M123.2 346.1h0"/><path d="M112.7 345.8h0"/><path d="M109.3 346.2h0"/><path d="M109.5 346.5h0"/><path d="M118.5 346.0h0"/><path d="M106.5 346.5h0"/><path d="M104.8 342.1h0"/><path d="M112.1 345.7h0"/><path d="M110.1 346.0h0"/><path d="M118.3 346.1h0"/><path d="M111.4 345.7h0"/><path d="M111.8 345.4h0"/><path d="M115.6 345.9h0"/><path d="M98.8 346.0h0"/><path d="M105.3 346.4h0"/><path d="M100.0 346.2h0"/><path d="M114.3 345.5h0"/><path d="M119.5 346.4h0"/><path d="M101.1 346.0h0"/><path d="M109.8 346.3h0"/><path d="M116.3 345.4h0"/><path d="M117.5 346.4h0"/><path d="M112.4 345.5h0"/><path d="M117.4 346.4h0"/><path d="M115.5 345.5h0"/><path d="M119.5 346.0h0"/><path d="M110.1 346.0h0"/><path d="M116.8 345.4h0"/><path d="M105.3 345.5h0"/><path d="M106.4 346.2h0"/><path d="M111.6 345.9h0"/><path d="M113.3 342.8h0"/><path d="M117.0 343.8h0"/><path d="M108.7 346.1h0"/><path d="M110.3 346.3h0"/><path d="M98.5 346.1h0"/><path d="M111.8 346.4h0"/><path d="M105.4 345.9h0"/><path d="M103.1 345.9h0"/><path d="M107.8 345.4h0"/><path d="M125.1 346.5h0"/><path d="M112.4 345.9h0"/><path d="M108.2 343.3h0"/><path d="M110.2 345.5h0"/><path d="M110.2 345.5h0"/><path d="M108.8 346.0h0"/><path d="M111.4 342.0h0"/><path d="M110.3 346.5h0"/><path d="M106.2 345.3h0"/><path d="M109.9 346.3h0"/><path d="M112.5 345.5h0"/><path d="M116.6 346.2h0"/><path d="M107.1 346.1h0"/><path d="M117.3 345.9h0"/><path d="M107.7 346.4h0"/><path d="M107.7 346.5h0"/><path d="M104.9 345.9h0"/><path d="M113.0 346.5h0"/><path d="M113.7 346.1h0"/><path d="M121.6 346.1h0"/><path d="M115.8 346.2h0"/><path d="M110.0 345.4h0"/><path d="M110.7 346.3h0"/><path d="M116.2 346.0h0"/><path d="M110.2 346.1h0"/><path d="M117.9 346.1h0"/><path d="M115.7 345.7h0"/><path d="M101.5 346.2h0"/><path d="M99.5 346.0h0"/><path d="M110.6 346.1h0"/><path d="M128.7 346.3h0"/><path d="M99.5 346.4h0"/><path d="M108.5 345.7h0"/><path d="M108.4 346.4h0"/><path d="M110.2 344.6h0"/><path d="M105.9 346.2h0"/><path d="M108.1 345.6h0"/><path d="M102.1 346.1h0"/><path d="M105.5 346.1h0"/><path d="M110.3 346.2h0"/><path d="M105.4 344.7h0"/><path d="M99.2 346.4h0"/><path d="M104.4 345.9h0"/><path d="M114.7 346.1h0"/><path d="M109.7 344.8h0"/><path d="M108.2 346.0h0"/><path d="M102.6 346.4h0"/><path d="M107.5 345.5h0"/><path d="M109.3 345.9h0"/><path d="M104.2 346.1h0"/><path d="M113.6 345.7h0"/><path d="M115.0 346.2h0"/><path d="M104.0 346.1h0"/><path d="M108.7 346.3h0"/><path d="M111.7 346.0h0"/><path d="M105.9 346.4h0"/><path d="M117.1 345.9h0"/><path d="M108.9 345.4h0"/><path d="M106.0 346.0h0"/><path d="M119.8 346.2h0"/><path d="M109.4 345.9h0"/><path d="M115.8 346.1h0"/><path d="M120.1 346.1h0"/></g>
<g stroke="#cf4a33" stroke-width="1.24" stroke-linecap="round" stroke-opacity="0.38" fill="none"><path d="M291.0 344.3h0"/><path d="M281.1 321.6h0"/><path d="M285.4 343.8h0"/><path d="M290.2 344.2h0"/><path d="M283.2 337.0h0"/><path d="M281.8 343.1h0"/><path d="M288.0 337.4h0"/><path d="M292.2 344.2h0"/><path d="M285.9 343.5h0"/><path d="M285.6 329.1h0"/><path d="M290.4 292.3h0"/><path d="M279.8 343.7h0"/><path d="M296.7 333.1h0"/><path d="M292.3 309.9h0"/><path d="M290.9 343.3h0"/><path d="M284.7 338.9h0"/><path d="M263.8 343.7h0"/><path d="M264.3 343.2h0"/><path d="M264.9 343.0h0"/><path d="M258.9 304.3h0"/><path d="M263.7 342.9h0"/><path d="M256.3 343.7h0"/><path d="M260.9 343.8h0"/><path d="M251.5 329.4h0"/><path d="M260.6 342.1h0"/><path d="M263.2 343.4h0"/><path d="M264.7 344.5h0"/><path d="M255.6 343.0h0"/><path d="M261.0 344.0h0"/><path d="M252.8 335.6h0"/><path d="M262.5 344.0h0"/><path d="M264.1 344.6h0"/></g>
<g stroke="#3b3495" stroke-width="1.24" stroke-linecap="round" stroke-opacity="0.45" fill="none"><path d="M273.0 328.4h0"/><path d="M271.6 345.1h0"/><path d="M269.5 343.6h0"/><path d="M273.4 345.7h0"/><path d="M268.9 342.8h0"/><path d="M275.5 343.7h0"/><path d="M265.2 345.5h0"/><path d="M273.7 345.4h0"/><path d="M272.9 343.9h0"/><path d="M263.0 344.6h0"/><path d="M276.0 345.1h0"/><path d="M273.1 345.7h0"/><path d="M275.6 343.1h0"/><path d="M266.4 345.0h0"/><path d="M274.7 335.1h0"/><path d="M273.5 343.7h0"/><path d="M276.0 345.2h0"/><path d="M279.6 344.7h0"/><path d="M264.1 345.1h0"/><path d="M278.8 346.0h0"/><path d="M279.2 346.2h0"/><path d="M268.3 342.8h0"/><path d="M269.5 346.0h0"/><path d="M278.6 341.5h0"/><path d="M277.1 343.0h0"/><path d="M278.3 345.7h0"/><path d="M266.8 345.4h0"/><path d="M269.8 344.9h0"/><path d="M277.8 344.4h0"/><path d="M271.0 344.3h0"/><path d="M264.2 345.6h0"/><path d="M277.4 344.5h0"/><path d="M272.0 345.5h0"/><path d="M276.4 345.6h0"/><path d="M271.8 345.3h0"/><path d="M267.2 344.4h0"/><path d="M277.1 345.6h0"/><path d="M276.2 343.6h0"/><path d="M265.9 344.8h0"/><path d="M269.9 344.2h0"/><path d="M266.0 345.6h0"/><path d="M272.2 344.7h0"/><path d="M269.9 342.9h0"/><path d="M264.2 345.4h0"/><path d="M274.0 346.0h0"/><path d="M270.7 346.2h0"/><path d="M278.5 343.5h0"/><path d="M275.6 345.9h0"/><path d="M271.4 343.2h0"/><path d="M270.7 345.7h0"/><path d="M268.7 342.8h0"/><path d="M275.7 345.9h0"/><path d="M268.8 345.8h0"/><path d="M272.3 343.8h0"/><path d="M273.4 343.8h0"/><path d="M270.6 341.9h0"/><path d="M284.3 345.0h0"/><path d="M277.7 346.1h0"/><path d="M280.0 346.0h0"/><path d="M271.7 335.0h0"/><path d="M274.6 345.5h0"/><path d="M277.9 342.5h0"/><path d="M274.0 343.9h0"/><path d="M273.5 346.2h0"/><path d="M267.5 346.2h0"/><path d="M266.8 346.2h0"/><path d="M268.9 344.4h0"/><path d="M273.8 345.5h0"/><path d="M273.0 345.2h0"/><path d="M268.5 346.3h0"/></g>
<rect x="359.1" y="286.5" width="8.6" height="8.7" fill="#c24a3b" stroke="#a53a2e" stroke-width="0.7"/>
<rect x="359.1" y="321.2" width="8.6" height="9.0" fill="#4d6187" stroke="#344a70" stroke-width="0.7"/>
<text x="371.6" y="293.1" font-size="8.0" textLength="35.4" lengthAdjust="spacingAndGlyphs" fill="#231f20" stroke="#231f20" stroke-width="0.25">significant</text>
<text x="371.6" y="303.1" font-size="8.0" textLength="36.4" lengthAdjust="spacingAndGlyphs" fill="#231f20" stroke="#231f20" stroke-width="0.25">FDR ≤0.01,</text>
<text x="371.6" y="313.1" font-size="8.0" textLength="38.4" lengthAdjust="spacingAndGlyphs" fill="#231f20" stroke="#231f20" stroke-width="0.25">Δ psi ≥ |0.1|</text>
<text x="371.6" y="327.6" font-size="8.0" textLength="11.0" lengthAdjust="spacingAndGlyphs" fill="#231f20" stroke="#231f20" stroke-width="0.25">n.s.</text>
<text x="419.6" y="293.1" font-size="8.0" textLength="17.0" lengthAdjust="spacingAndGlyphs" fill="#231f20" stroke="#231f20" stroke-width="0.25">Δ psi</text>
<line x1="419.6" y1="294.9" x2="436.6" y2="294.9" stroke="#231f20" stroke-width="0.6"/>
<text x="419.6" y="303.1" font-size="8.0" textLength="56.2" lengthAdjust="spacingAndGlyphs" fill="#231f20" stroke="#231f20" stroke-width="0.25">&lt; 0 -more in sibs</text>
<text x="419.6" y="313.1" font-size="8.0" textLength="60.4" lengthAdjust="spacingAndGlyphs" fill="#231f20" stroke="#231f20" stroke-width="0.25">&gt; 0 -more in muts</text>
<text x="6.7" y="404.8" font-size="12.4" textLength="7.6" lengthAdjust="spacingAndGlyphs" fill="#231f20" stroke="#231f20" stroke-width="0.35">C</text>
<circle cx="65.5" cy="456.0" r="44.2" fill="#d8953c" stroke="#231f20" stroke-width="0.8"/>
<circle cx="142.15" cy="455.9" r="39.55" fill="#4a6285" stroke="#231f20" stroke-width="0.8"/>
<clipPath id="c193"><circle cx="65.5" cy="456.0" r="44.2"/></clipPath>
<circle cx="142.15" cy="455.9" r="39.55" fill="#cbc7cc" stroke="#231f20" stroke-width="0.8" clip-path="url(#c193)"/>
<circle cx="65.5" cy="456.0" r="44.2" fill="none" stroke="#231f20" stroke-width="0.8"/>
<text x="106.2" y="400.3" font-size="7.6" text-anchor="middle" textLength="27.0" lengthAdjust="spacingAndGlyphs" fill="#231f20" stroke="#231f20" stroke-width="0.25">Overlap</text>
<text x="106.2" y="410.4" font-size="7.6" text-anchor="middle" fill="#231f20" stroke="#231f20" stroke-width="0.25">(33)</text>
<text x="106.4" y="420.9" font-size="7.6" text-anchor="middle" fill="#231f20" stroke="#231f20" stroke-width="0.25">n.s.</text>
<text x="63.9" y="453.0" font-size="7.6" text-anchor="middle" textLength="38.6" lengthAdjust="spacingAndGlyphs" fill="#231f20" stroke="#231f20" stroke-width="0.25">Mis-spliced</text>
<text x="64.2" y="463.0" font-size="7.6" text-anchor="middle" textLength="44.4" lengthAdjust="spacingAndGlyphs" fill="#231f20" stroke="#231f20" stroke-width="0.25">genes (1104)</text>
<text x="143.9" y="448.6" font-size="7.6" text-anchor="middle" textLength="17.3" lengthAdjust="spacingAndGlyphs" fill="#eef2f7" stroke="#eef2f7" stroke-width="0.25">DEG-</text>
<text x="143.5" y="457.6" font-size="7.6" text-anchor="middle" textLength="53.0" lengthAdjust="spacingAndGlyphs" fill="#eef2f7" stroke="#eef2f7" stroke-width="0.25">downregulated</text>
<text x="144.0" y="467.6" font-size="7.6" text-anchor="middle" textLength="17.3" lengthAdjust="spacingAndGlyphs" fill="#eef2f7" stroke="#eef2f7" stroke-width="0.25">(899)</text>
<circle cx="66.6" cy="570.0" r="44.8" fill="#d8953c" stroke="#231f20" stroke-width="0.8"/>
<circle cx="143.5" cy="569.6" r="37.9" fill="#a03446" stroke="#231f20" stroke-width="0.8"/>
<clipPath id="c206"><circle cx="66.6" cy="570.0" r="44.8"/></clipPath>
<circle cx="143.5" cy="569.6" r="37.9" fill="#cbc7cc" stroke="#231f20" stroke-width="0.8" clip-path="url(#c206)"/>
<circle cx="66.6" cy="570.0" r="44.8" fill="none" stroke="#231f20" stroke-width="0.8"/>
<text x="108.7" y="516.4" font-size="7.6" text-anchor="middle" textLength="27.5" lengthAdjust="spacingAndGlyphs" fill="#231f20" stroke="#231f20" stroke-width="0.25">Overlap</text>
<text x="108.7" y="525.3" font-size="7.6" text-anchor="middle" fill="#231f20" stroke="#231f20" stroke-width="0.25">(23)</text>
<text x="108.7" y="535.0" font-size="7.6" text-anchor="middle" fill="#231f20" stroke="#231f20" stroke-width="0.25">n.s.</text>
<text x="65.5" y="566.2" font-size="7.6" text-anchor="middle" textLength="38.1" lengthAdjust="spacingAndGlyphs" fill="#231f20" stroke="#231f20" stroke-width="0.25">Mis-spliced</text>
<text x="65.5" y="576.6" font-size="7.6" text-anchor="middle" textLength="43.9" lengthAdjust="spacingAndGlyphs" fill="#231f20" stroke="#231f20" stroke-width="0.25">genes (1104)</text>
<text x="144.3" y="561.6" font-size="7.6" text-anchor="middle" textLength="16.4" lengthAdjust="spacingAndGlyphs" fill="#eef2f7" stroke="#eef2f7" stroke-width="0.25">DEG-</text>
<text x="145.2" y="571.2" font-size="7.6" text-anchor="middle" textLength="42.0" lengthAdjust="spacingAndGlyphs" fill="#eef2f7" stroke="#eef2f7" stroke-width="0.25">upregulated</text>
<text x="145.0" y="580.7" font-size="7.6" text-anchor="middle" textLength="17.4" lengthAdjust="spacingAndGlyphs" fill="#eef2f7" stroke="#eef2f7" stroke-width="0.25">(768)</text>
<text x="196.9" y="404.7" font-size="12.2" textLength="8.2" lengthAdjust="spacingAndGlyphs" fill="#231f20" stroke="#231f20" stroke-width="0.35">D</text>
<line x1="242.3" y1="395.8" x2="242.3" y2="547.0" stroke="#231f20" stroke-width="1.05"/>
<line x1="241.8" y1="546.5" x2="463.5" y2="546.5" stroke="#231f20" stroke-width="1.05"/>
<line x1="238.8" y1="546.2" x2="242.3" y2="546.2" stroke="#231f20" stroke-width="1.0"/>
<text x="236.4" y="548.8000000000001" font-size="7.0" text-anchor="end" textLength="4.2" lengthAdjust="spacingAndGlyphs" fill="#231f20" stroke="#231f20" stroke-width="0.25">0</text>
<line x1="238.8" y1="497.00000000000006" x2="242.3" y2="497.00000000000006" stroke="#231f20" stroke-width="1.0"/>
<text x="236.4" y="499.6000000000001" font-size="7.0" text-anchor="end" textLength="4.2" lengthAdjust="spacingAndGlyphs" fill="#231f20" stroke="#231f20" stroke-width="0.25">5</text>
<line x1="238.8" y1="447.80000000000007" x2="242.3" y2="447.80000000000007" stroke="#231f20" stroke-width="1.0"/>
<text x="236.4" y="450.4000000000001" font-size="7.0" text-anchor="end" textLength="8.3" lengthAdjust="spacingAndGlyphs" fill="#231f20" stroke="#231f20" stroke-width="0.25">10</text>
<line x1="238.8" y1="398.6" x2="242.3" y2="398.6" stroke="#231f20" stroke-width="1.0"/>
<text x="236.4" y="401.20000000000005" font-size="7.0" text-anchor="end" textLength="8.3" lengthAdjust="spacingAndGlyphs" fill="#231f20" stroke="#231f20" stroke-width="0.25">15</text>
<text x="0" y="0" font-size="8.2" text-anchor="middle" textLength="49.6" lengthAdjust="spacingAndGlyphs" fill="#231f20" stroke="#231f20" stroke-width="0.25" transform="translate(220.6 471.6) rotate(-90)">-log(pvalue)</text>
<text x="353.0" y="402.5" font-size="6.9" text-anchor="middle" textLength="53.0" lengthAdjust="spacingAndGlyphs" fill="#231f20" stroke="#231f20" stroke-width="0.25">KEGG Pathways</text>
<rect x="258.1" y="432.5" width="35.89999999999998" height="113.79999999999995" fill="#6a4769" stroke="#5a3a5a" stroke-width="0.6"/>
<rect x="309.2" y="455.9" width="36.19999999999999" height="90.39999999999998" fill="#4d6180" stroke="#3f4f6a" stroke-width="0.6"/>
<rect x="360.9" y="458.7" width="35.700000000000045" height="87.59999999999997" fill="#61656f" stroke="#50535c" stroke-width="0.6"/>
<rect x="411.9" y="470.2" width="36.0" height="76.09999999999997" fill="#c9c3c6" stroke="#bdb6b9" stroke-width="0.6"/>
<line x1="276.0" y1="546.4" x2="276.0" y2="549.6" stroke="#231f20" stroke-width="0.8"/>
<line x1="327.2" y1="546.4" x2="327.2" y2="549.6" stroke="#231f20" stroke-width="0.8"/>
<line x1="378.6" y1="546.4" x2="378.6" y2="549.6" stroke="#231f20" stroke-width="0.8"/>
<line x1="429.9" y1="546.4" x2="429.9" y2="549.6" stroke="#231f20" stroke-width="0.8"/>
<text x="0" y="0" font-size="6.7" text-anchor="end" textLength="67.0" lengthAdjust="spacingAndGlyphs" fill="#231f20" stroke="#231f20" stroke-width="0.25" transform="translate(279.8 556.2) rotate(-45)">Pathways in Cancer</text>
<text x="0" y="0" font-size="6.7" text-anchor="end" textLength="49.6" lengthAdjust="spacingAndGlyphs" fill="#231f20" stroke="#231f20" stroke-width="0.25" transform="translate(331.0 555.0) rotate(-45)">Regulation of</text>
<text x="0" y="0" font-size="6.7" text-anchor="end" textLength="66.5" lengthAdjust="spacingAndGlyphs" fill="#231f20" stroke="#231f20" stroke-width="0.25" transform="translate(337.8 561.6) rotate(-45)">Actin Cytoskeleton</text>
<text x="0" y="0" font-size="6.7" text-anchor="end" textLength="56.5" lengthAdjust="spacingAndGlyphs" fill="#231f20" stroke="#231f20" stroke-width="0.25" transform="translate(382.8 555.3) rotate(-45)">MAPK Signaling</text>
<text x="0" y="0" font-size="6.7" text-anchor="end" textLength="46.5" lengthAdjust="spacingAndGlyphs" fill="#231f20" stroke="#231f20" stroke-width="0.25" transform="translate(433.4 555.6) rotate(-45)">Spliceosome</text>
<rect x="0" y="0" width="520" height="1.4" fill="#2a2a2a"/>
<rect x="0" y="0" width="1.05" height="622" fill="#1e1e1e"/>
<rect x="518.3" y="0" width="1.7" height="622" fill="#3a3a3a"/>
<rect x="0" y="620.3" width="520" height="1.7" fill="#3a3a3a"/>
</svg>
</body></html>
